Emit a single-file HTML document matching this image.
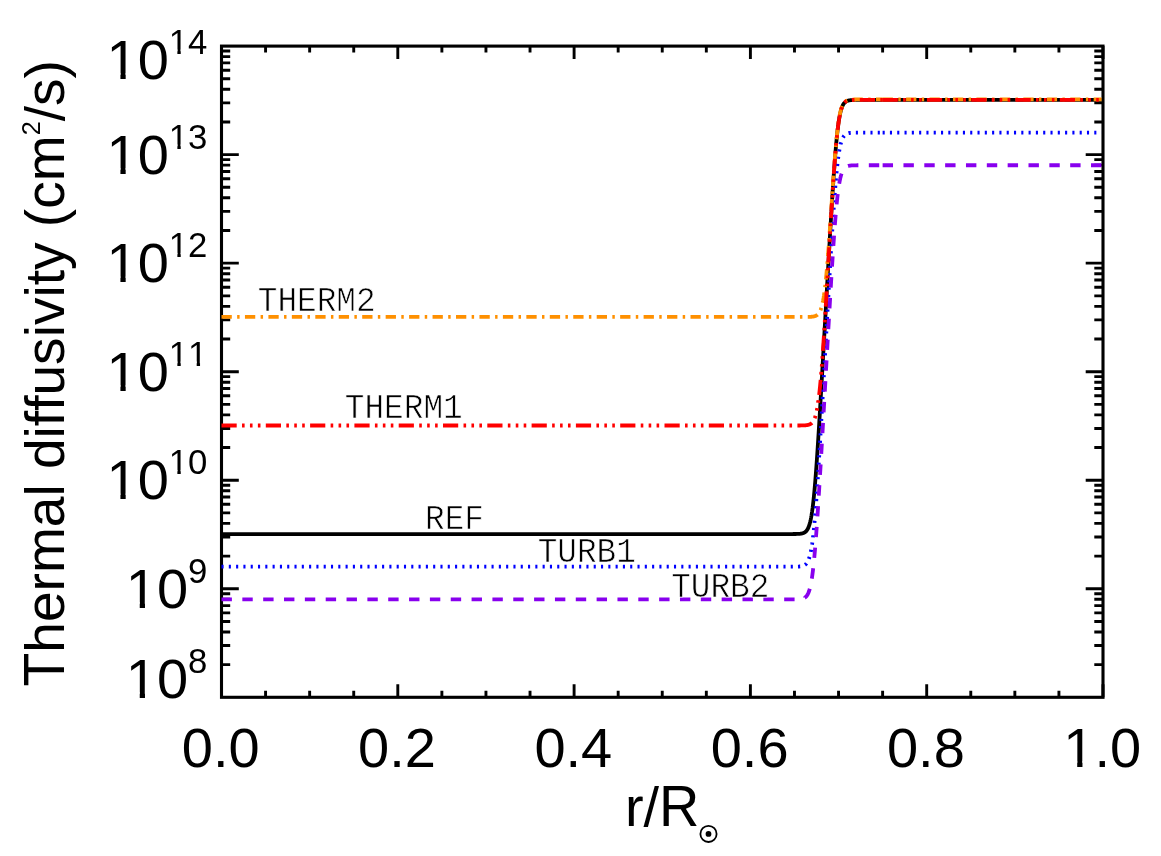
<!DOCTYPE html>
<html><head><meta charset="utf-8"><title>Thermal diffusivity</title>
<style>html,body{margin:0;padding:0;background:#fff}svg{display:block;will-change:transform}text{font-kerning:none;font-variant-ligatures:none}</style>
</head><body>
<svg width="1161" height="856" viewBox="0 0 1161 856">
<rect width="1161" height="856" fill="#ffffff"/>
<path d="M221.50 697.30 v-13.00 M221.50 46.10 v13.00 M265.57 697.30 v-6.50 M265.57 46.10 v6.50 M309.65 697.30 v-6.50 M309.65 46.10 v6.50 M353.73 697.30 v-6.50 M353.73 46.10 v6.50 M397.80 697.30 v-13.00 M397.80 46.10 v13.00 M441.88 697.30 v-6.50 M441.88 46.10 v6.50 M485.95 697.30 v-6.50 M485.95 46.10 v6.50 M530.03 697.30 v-6.50 M530.03 46.10 v6.50 M574.10 697.30 v-13.00 M574.10 46.10 v13.00 M618.17 697.30 v-6.50 M618.17 46.10 v6.50 M662.25 697.30 v-6.50 M662.25 46.10 v6.50 M706.33 697.30 v-6.50 M706.33 46.10 v6.50 M750.40 697.30 v-13.00 M750.40 46.10 v13.00 M794.48 697.30 v-6.50 M794.48 46.10 v6.50 M838.55 697.30 v-6.50 M838.55 46.10 v6.50 M882.62 697.30 v-6.50 M882.62 46.10 v6.50 M926.70 697.30 v-13.00 M926.70 46.10 v13.00 M970.78 697.30 v-6.50 M970.78 46.10 v6.50 M1014.85 697.30 v-6.50 M1014.85 46.10 v6.50 M1058.93 697.30 v-6.50 M1058.93 46.10 v6.50 M1103.00 697.30 v-13.00 M1103.00 46.10 v13.00 M221.50 664.63 h8.70 M1103.00 664.63 h-8.70 M221.50 645.52 h8.70 M1103.00 645.52 h-8.70 M221.50 631.96 h8.70 M1103.00 631.96 h-8.70 M221.50 621.44 h8.70 M1103.00 621.44 h-8.70 M221.50 612.84 h8.70 M1103.00 612.84 h-8.70 M221.50 605.58 h8.70 M1103.00 605.58 h-8.70 M221.50 599.28 h8.70 M1103.00 599.28 h-8.70 M221.50 593.73 h8.70 M1103.00 593.73 h-8.70 M221.50 588.77 h17.30 M1103.00 588.77 h-17.30 M221.50 556.09 h8.70 M1103.00 556.09 h-8.70 M221.50 536.98 h8.70 M1103.00 536.98 h-8.70 M221.50 523.42 h8.70 M1103.00 523.42 h-8.70 M221.50 512.91 h8.70 M1103.00 512.91 h-8.70 M221.50 504.31 h8.70 M1103.00 504.31 h-8.70 M221.50 497.05 h8.70 M1103.00 497.05 h-8.70 M221.50 490.75 h8.70 M1103.00 490.75 h-8.70 M221.50 485.20 h8.70 M1103.00 485.20 h-8.70 M221.50 480.23 h17.30 M1103.00 480.23 h-17.30 M221.50 447.56 h8.70 M1103.00 447.56 h-8.70 M221.50 428.45 h8.70 M1103.00 428.45 h-8.70 M221.50 414.89 h8.70 M1103.00 414.89 h-8.70 M221.50 404.37 h8.70 M1103.00 404.37 h-8.70 M221.50 395.78 h8.70 M1103.00 395.78 h-8.70 M221.50 388.51 h8.70 M1103.00 388.51 h-8.70 M221.50 382.22 h8.70 M1103.00 382.22 h-8.70 M221.50 376.67 h8.70 M1103.00 376.67 h-8.70 M221.50 371.70 h17.30 M1103.00 371.70 h-17.30 M221.50 339.03 h8.70 M1103.00 339.03 h-8.70 M221.50 319.92 h8.70 M1103.00 319.92 h-8.70 M221.50 306.36 h8.70 M1103.00 306.36 h-8.70 M221.50 295.84 h8.70 M1103.00 295.84 h-8.70 M221.50 287.24 h8.70 M1103.00 287.24 h-8.70 M221.50 279.98 h8.70 M1103.00 279.98 h-8.70 M221.50 273.68 h8.70 M1103.00 273.68 h-8.70 M221.50 268.13 h8.70 M1103.00 268.13 h-8.70 M221.50 263.17 h17.30 M1103.00 263.17 h-17.30 M221.50 230.49 h8.70 M1103.00 230.49 h-8.70 M221.50 211.38 h8.70 M1103.00 211.38 h-8.70 M221.50 197.82 h8.70 M1103.00 197.82 h-8.70 M221.50 187.31 h8.70 M1103.00 187.31 h-8.70 M221.50 178.71 h8.70 M1103.00 178.71 h-8.70 M221.50 171.45 h8.70 M1103.00 171.45 h-8.70 M221.50 165.15 h8.70 M1103.00 165.15 h-8.70 M221.50 159.60 h8.70 M1103.00 159.60 h-8.70 M221.50 154.63 h17.30 M1103.00 154.63 h-17.30 M221.50 121.96 h8.70 M1103.00 121.96 h-8.70 M221.50 102.85 h8.70 M1103.00 102.85 h-8.70 M221.50 89.29 h8.70 M1103.00 89.29 h-8.70 M221.50 78.77 h8.70 M1103.00 78.77 h-8.70 M221.50 70.18 h8.70 M1103.00 70.18 h-8.70 M221.50 62.91 h8.70 M1103.00 62.91 h-8.70 M221.50 56.62 h8.70 M1103.00 56.62 h-8.70 M221.50 51.07 h8.70 M1103.00 51.07 h-8.70" fill="none" stroke="#000" stroke-width="2.90"/>
<rect x="221.50" y="46.10" width="881.50" height="651.20" fill="none" stroke="#000" stroke-width="3.10"/>
<path d="M221.50 534.04 L789.60 534.04 L791.42 534.03 L792.48 534.03 L793.24 534.02 L793.83 534.02 L794.30 534.01 L794.71 534.00 L795.06 534.00 L795.42 533.99 L795.71 533.99 L795.94 533.98 L796.18 533.98 L796.41 533.97 L796.65 533.96 L796.83 533.96 L797.00 533.95 L797.18 533.95 L797.35 533.94 L797.53 533.93 L797.71 533.93 L797.82 533.92 L797.94 533.92 L798.06 533.91 L798.18 533.90 L798.29 533.90 L798.41 533.89 L798.53 533.88 L798.65 533.88 L798.76 533.87 L798.88 533.86 L799.00 533.85 L799.12 533.84 L799.24 533.84 L799.35 533.83 L799.41 533.82 L799.47 533.82 L799.53 533.81 L799.59 533.81 L799.65 533.80 L799.71 533.80 L799.76 533.79 L799.82 533.78 L799.88 533.78 L799.94 533.77 L800.00 533.77 L800.06 533.76 L800.12 533.75 L800.18 533.75 L800.23 533.74 L800.29 533.73 L800.35 533.73 L800.41 533.72 L800.47 533.71 L800.53 533.70 L800.59 533.70 L800.65 533.69 L800.70 533.68 L800.76 533.67 L800.82 533.66 L800.88 533.66 L800.94 533.65 L801.00 533.64 L801.06 533.63 L801.12 533.62 L801.17 533.61 L801.23 533.60 L801.29 533.59 L801.35 533.58 L801.41 533.57 L801.47 533.56 L801.53 533.55 L801.59 533.54 L801.64 533.53 L801.64 533.52 L801.70 533.51 L801.76 533.50 L801.82 533.49 L801.88 533.48 L801.94 533.46 L802.00 533.45 L802.06 533.44 L802.11 533.42 L802.17 533.41 L802.23 533.39 L802.29 533.38 L802.35 533.36 L802.41 533.35 L802.47 533.33 L802.53 533.32 L802.58 533.30 L802.64 533.28 L802.70 533.27 L802.76 533.25 L802.82 533.23 L802.88 533.21 L802.94 533.19 L803.00 533.17 L803.05 533.16 L803.11 533.14 L803.17 533.11 L803.23 533.09 L803.29 533.07 L803.35 533.05 L803.41 533.03 L803.47 533.01 L803.53 532.98 L803.58 532.96 L803.64 532.93 L803.70 532.91 L803.76 532.88 L803.82 532.86 L803.88 532.83 L803.94 532.80 L804.00 532.77 L804.05 532.75 L804.11 532.72 L804.17 532.69 L804.23 532.66 L804.29 532.63 L804.35 532.59 L804.41 532.56 L804.47 532.53 L804.52 532.49 L804.58 532.46 L804.64 532.42 L804.70 532.39 L804.76 532.35 L804.82 532.31 L804.88 532.27 L804.94 532.23 L804.94 532.23 L804.99 532.19 L805.05 532.15 L805.11 532.11 L805.17 532.07 L805.23 532.02 L805.29 531.98 L805.35 531.93 L805.41 531.88 L805.46 531.83 L805.52 531.79 L805.58 531.74 L805.64 531.68 L805.70 531.63 L805.76 531.58 L805.82 531.52 L805.88 531.47 L805.93 531.41 L805.99 531.35 L806.05 531.29 L806.11 531.23 L806.17 531.17 L806.23 531.10 L806.29 531.04 L806.35 530.97 L806.40 530.91 L806.46 530.84 L806.52 530.77 L806.58 530.69 L806.60 530.67 L806.64 530.62 L806.70 530.54 L806.76 530.47 L806.82 530.39 L806.87 530.31 L806.93 530.23 L806.99 530.14 L807.05 530.06 L807.11 529.97 L807.17 529.88 L807.23 529.79 L807.29 529.70 L807.34 529.60 L807.40 529.51 L807.46 529.41 L807.52 529.31 L807.58 529.20 L807.64 529.10 L807.70 528.99 L807.76 528.88 L807.82 528.77 L807.87 528.66 L807.93 528.54 L807.99 528.42 L808.05 528.30 L808.11 528.18 L808.17 528.05 L808.23 527.92 L808.25 527.87 L808.29 527.79 L808.34 527.66 L808.40 527.52 L808.46 527.38 L808.52 527.24 L808.58 527.10 L808.64 526.95 L808.70 526.80 L808.76 526.65 L808.81 526.49 L808.87 526.33 L808.93 526.17 L808.99 526.00 L809.05 525.83 L809.11 525.66 L809.17 525.49 L809.23 525.31 L809.28 525.13 L809.34 524.94 L809.40 524.75 L809.46 524.56 L809.52 524.36 L809.58 524.17 L809.64 523.96 L809.70 523.76 L809.75 523.54 L809.81 523.33 L809.87 523.11 L809.90 523.00 L809.93 522.89 L809.99 522.66 L810.05 522.43 L810.11 522.20 L810.17 521.96 L810.22 521.72 L810.28 521.47 L810.34 521.22 L810.40 520.96 L810.46 520.70 L810.52 520.44 L810.58 520.17 L810.64 519.89 L810.69 519.61 L810.75 519.33 L810.81 519.04 L810.87 518.75 L810.93 518.45 L810.99 518.15 L811.05 517.84 L811.11 517.53 L811.16 517.21 L811.22 516.89 L811.28 516.56 L811.34 516.23 L811.40 515.89 L811.46 515.55 L811.52 515.20 L811.55 514.98 L811.58 514.85 L811.63 514.49 L811.69 514.13 L811.75 513.76 L811.81 513.38 L811.87 513.00 L811.93 512.61 L811.99 512.22 L812.05 511.82 L812.11 511.42 L812.16 511.01 L812.22 510.60 L812.28 510.18 L812.34 509.75 L812.40 509.32 L812.46 508.88 L812.52 508.44 L812.58 507.99 L812.63 507.53 L812.69 507.07 L812.75 506.61 L812.81 506.13 L812.87 505.65 L812.93 505.17 L812.99 504.68 L813.05 504.18 L813.10 503.68 L813.16 503.17 L813.21 502.78 L813.22 502.65 L813.28 502.13 L813.34 501.61 L813.40 501.07 L813.46 500.53 L813.52 499.99 L813.57 499.44 L813.63 498.88 L813.69 498.32 L813.75 497.75 L813.81 497.18 L813.87 496.59 L813.93 496.01 L813.99 495.42 L814.04 494.82 L814.10 494.21 L814.16 493.60 L814.22 492.98 L814.28 492.36 L814.34 491.73 L814.40 491.10 L814.46 490.46 L814.51 489.82 L814.57 489.16 L814.63 488.51 L814.69 487.85 L814.75 487.18 L814.81 486.50 L814.86 485.91 L814.87 485.82 L814.93 485.14 L814.98 484.45 L815.04 483.75 L815.10 483.05 L815.16 482.34 L815.22 481.63 L815.28 480.92 L815.34 480.19 L815.40 479.47 L815.45 478.73 L815.51 477.99 L815.57 477.25 L815.63 476.50 L815.69 475.75 L815.75 474.99 L815.81 474.23 L815.87 473.46 L815.92 472.69 L815.98 471.91 L816.04 471.13 L816.10 470.34 L816.16 469.55 L816.22 468.75 L816.28 467.95 L816.34 467.15 L816.39 466.34 L816.45 465.52 L816.51 464.71 L816.57 463.88 L816.63 463.06 L816.69 462.23 L816.75 461.39 L816.81 460.55 L816.87 459.71 L816.92 458.86 L816.98 458.01 L817.04 457.16 L817.10 456.30 L817.16 455.44 L817.22 454.57 L817.28 453.70 L817.34 452.83 L817.39 451.95 L817.45 451.07 L817.51 450.19 L817.57 449.30 L817.63 448.41 L817.69 447.52 L817.75 446.62 L817.81 445.72 L817.86 444.82 L817.92 443.92 L817.98 443.01 L818.04 442.10 L818.10 441.18 L818.16 440.26 L818.17 440.15 L818.22 439.34 L818.28 438.42 L818.33 437.49 L818.39 436.57 L818.45 435.63 L818.51 434.70 L818.57 433.76 L818.63 432.83 L818.69 431.88 L818.75 430.94 L818.80 429.99 L818.86 429.05 L818.92 428.09 L818.98 427.14 L819.04 426.19 L819.10 425.23 L819.16 424.27 L819.22 423.31 L819.27 422.34 L819.33 421.38 L819.39 420.41 L819.45 419.44 L819.51 418.47 L819.57 417.50 L819.63 416.52 L819.69 415.54 L819.74 414.57 L819.80 413.59 L819.82 413.34 L819.86 412.60 L819.92 411.62 L819.98 410.63 L820.04 409.65 L820.10 408.66 L820.16 407.67 L820.21 406.68 L820.27 405.68 L820.33 404.69 L820.39 403.69 L820.45 402.70 L820.51 401.70 L820.57 400.70 L820.63 399.70 L820.68 398.69 L820.74 397.69 L820.80 396.68 L820.86 395.68 L820.92 394.67 L820.98 393.66 L821.04 392.65 L821.10 391.64 L821.16 390.63 L821.21 389.62 L821.27 388.60 L821.33 387.59 L821.39 386.57 L821.45 385.56 L821.47 385.17 L821.51 384.54 L821.57 383.52 L821.63 382.50 L821.68 381.48 L821.74 380.46 L821.80 379.44 L821.86 378.41 L821.92 377.39 L821.98 376.36 L822.04 375.34 L822.10 374.31 L822.15 373.29 L822.21 372.26 L822.27 371.23 L822.33 370.20 L822.39 369.17 L822.45 368.14 L822.51 367.11 L822.57 366.08 L822.62 365.05 L822.68 364.02 L822.74 362.98 L822.80 361.95 L822.86 360.92 L822.92 359.88 L822.98 358.85 L823.04 357.81 L823.09 356.78 L823.12 356.26 L823.15 355.74 L823.21 354.70 L823.27 353.67 L823.33 352.63 L823.39 351.59 L823.45 350.55 L823.51 349.51 L823.56 348.48 L823.62 347.44 L823.68 346.40 L823.74 345.36 L823.80 344.32 L823.86 343.28 L823.92 342.23 L823.98 341.19 L824.03 340.15 L824.09 339.11 L824.15 338.07 L824.21 337.03 L824.27 335.98 L824.33 334.94 L824.39 333.90 L824.45 332.86 L824.50 331.81 L824.56 330.77 L824.62 329.73 L824.68 328.68 L824.74 327.64 L824.78 326.99 L824.80 326.60 L824.86 325.55 L824.92 324.51 L824.97 323.46 L825.03 322.42 L825.09 321.38 L825.15 320.33 L825.21 319.29 L825.27 318.24 L825.33 317.20 L825.39 316.16 L825.45 315.11 L825.50 314.07 L825.56 313.02 L825.62 311.98 L825.68 310.94 L825.74 309.89 L825.80 308.85 L825.86 307.80 L825.92 306.76 L825.97 305.72 L826.03 304.67 L826.09 303.63 L826.15 302.59 L826.21 301.54 L826.27 300.50 L826.33 299.46 L826.39 298.42 L826.43 297.63 L826.44 297.37 L826.50 296.33 L826.56 295.29 L826.62 294.25 L826.68 293.21 L826.74 292.17 L826.80 291.12 L826.86 290.08 L826.91 289.04 L826.97 288.00 L827.03 286.96 L827.09 285.92 L827.15 284.89 L827.21 283.85 L827.27 282.81 L827.33 281.77 L827.38 280.73 L827.44 279.69 L827.50 278.66 L827.56 277.62 L827.62 276.59 L827.68 275.55 L827.74 274.51 L827.80 273.48 L827.85 272.45 L827.91 271.41 L827.97 270.38 L828.03 269.35 L828.08 268.44 L828.09 268.31 L828.15 267.28 L828.21 266.25 L828.27 265.22 L828.32 264.19 L828.38 263.16 L828.44 262.14 L828.50 261.11 L828.56 260.08 L828.62 259.05 L828.68 258.03 L828.74 257.00 L828.79 255.98 L828.85 254.96 L828.91 253.93 L828.97 252.91 L829.03 251.89 L829.09 250.87 L829.15 249.85 L829.21 248.83 L829.26 247.82 L829.32 246.80 L829.38 245.79 L829.44 244.77 L829.50 243.76 L829.56 242.75 L829.62 241.73 L829.68 240.72 L829.73 239.72 L829.79 238.71 L829.85 237.70 L829.91 236.70 L829.97 235.69 L830.03 234.69 L830.09 233.69 L830.15 232.69 L830.21 231.69 L830.26 230.69 L830.32 229.69 L830.38 228.70 L830.44 227.70 L830.50 226.71 L830.56 225.72 L830.62 224.73 L830.68 223.74 L830.73 222.76 L830.79 221.77 L830.85 220.79 L830.91 219.81 L830.97 218.83 L831.03 217.85 L831.09 216.87 L831.15 215.90 L831.20 214.93 L831.26 213.96 L831.32 212.99 L831.38 212.02 L831.39 211.90 L831.44 211.06 L831.50 210.10 L831.56 209.13 L831.62 208.18 L831.67 207.22 L831.73 206.27 L831.79 205.31 L831.85 204.37 L831.91 203.42 L831.97 202.47 L832.03 201.53 L832.09 200.59 L832.14 199.65 L832.20 198.72 L832.26 197.79 L832.32 196.86 L832.38 195.93 L832.44 195.01 L832.50 194.08 L832.56 193.16 L832.61 192.25 L832.67 191.34 L832.73 190.43 L832.79 189.52 L832.85 188.61 L832.91 187.71 L832.97 186.82 L833.03 185.92 L833.04 185.70 L833.08 185.03 L833.14 184.14 L833.20 183.26 L833.26 182.38 L833.32 181.50 L833.38 180.62 L833.44 179.75 L833.50 178.89 L833.55 178.02 L833.61 177.16 L833.67 176.31 L833.73 175.45 L833.79 174.60 L833.85 173.76 L833.91 172.92 L833.97 172.08 L834.02 171.25 L834.08 170.42 L834.14 169.60 L834.20 168.78 L834.26 167.96 L834.32 167.15 L834.38 166.34 L834.44 165.54 L834.50 164.74 L834.55 163.95 L834.61 163.16 L834.67 162.38 L834.69 162.08 L834.73 161.60 L834.79 160.82 L834.85 160.05 L834.91 159.29 L834.97 158.53 L835.02 157.77 L835.08 157.02 L835.14 156.27 L835.20 155.53 L835.26 154.80 L835.32 154.07 L835.38 153.34 L835.44 152.62 L835.49 151.91 L835.55 151.20 L835.61 150.50 L835.67 149.80 L835.73 149.11 L835.79 148.42 L835.85 147.74 L835.91 147.06 L835.96 146.39 L836.02 145.73 L836.08 145.07 L836.14 144.41 L836.20 143.77 L836.26 143.12 L836.32 142.49 L836.35 142.17 L836.38 141.86 L836.43 141.23 L836.49 140.61 L836.55 140.00 L836.61 139.39 L836.67 138.79 L836.73 138.20 L836.79 137.61 L836.85 137.02 L836.90 136.44 L836.96 135.87 L837.02 135.31 L837.08 134.75 L837.14 134.19 L837.20 133.65 L837.26 133.11 L837.32 132.57 L837.37 132.04 L837.43 131.52 L837.49 131.00 L837.55 130.49 L837.61 129.98 L837.67 129.48 L837.73 128.99 L837.79 128.50 L837.84 128.02 L837.90 127.55 L837.96 127.08 L838.00 126.79 L838.02 126.61 L838.08 126.15 L838.14 125.70 L838.20 125.26 L838.26 124.82 L838.31 124.38 L838.37 123.95 L838.43 123.53 L838.49 123.11 L838.55 122.70 L838.61 122.30 L838.67 121.90 L838.73 121.50 L838.79 121.11 L838.84 120.73 L838.90 120.35 L838.96 119.98 L839.02 119.61 L839.08 119.25 L839.14 118.90 L839.20 118.55 L839.26 118.20 L839.31 117.86 L839.37 117.53 L839.43 117.20 L839.49 116.87 L839.55 116.55 L839.61 116.24 L839.65 116.00 L839.67 115.93 L839.73 115.62 L839.78 115.32 L839.84 115.03 L839.90 114.74 L839.96 114.45 L840.02 114.17 L840.08 113.90 L840.14 113.63 L840.20 113.36 L840.25 113.10 L840.31 112.84 L840.37 112.59 L840.43 112.34 L840.49 112.09 L840.55 111.85 L840.61 111.61 L840.67 111.38 L840.72 111.15 L840.78 110.93 L840.84 110.71 L840.90 110.49 L840.96 110.28 L841.02 110.07 L841.08 109.87 L841.14 109.67 L841.19 109.47 L841.25 109.27 L841.30 109.11 L841.31 109.08 L841.37 108.90 L841.43 108.71 L841.49 108.53 L841.55 108.36 L841.61 108.18 L841.66 108.01 L841.72 107.85 L841.78 107.68 L841.84 107.52 L841.90 107.37 L841.96 107.21 L842.02 107.06 L842.08 106.91 L842.13 106.77 L842.19 106.62 L842.25 106.48 L842.31 106.35 L842.37 106.21 L842.43 106.08 L842.49 105.95 L842.55 105.82 L842.60 105.70 L842.66 105.58 L842.72 105.46 L842.78 105.34 L842.84 105.22 L842.90 105.11 L842.96 105.00 L843.02 104.89 L843.08 104.79 L843.13 104.68 L843.19 104.58 L843.25 104.48 L843.31 104.38 L843.37 104.29 L843.43 104.20 L843.49 104.10 L843.55 104.01 L843.60 103.93 L843.66 103.84 L843.72 103.75 L843.78 103.67 L843.84 103.59 L843.90 103.51 L843.96 103.43 L844.02 103.36 L844.07 103.28 L844.13 103.21 L844.19 103.14 L844.25 103.07 L844.31 103.00 L844.37 102.93 L844.43 102.87 L844.49 102.80 L844.54 102.74 L844.60 102.68 L844.61 102.67 L844.66 102.62 L844.72 102.56 L844.78 102.50 L844.84 102.45 L844.90 102.39 L844.96 102.34 L845.01 102.28 L845.07 102.23 L845.13 102.18 L845.19 102.13 L845.25 102.08 L845.31 102.03 L845.37 101.99 L845.43 101.94 L845.48 101.90 L845.54 101.85 L845.60 101.81 L845.66 101.77 L845.72 101.73 L845.78 101.69 L845.84 101.65 L845.90 101.61 L845.95 101.57 L846.01 101.54 L846.07 101.50 L846.13 101.47 L846.19 101.43 L846.25 101.40 L846.26 101.39 L846.31 101.36 L846.37 101.33 L846.42 101.30 L846.48 101.27 L846.54 101.24 L846.60 101.21 L846.66 101.18 L846.72 101.15 L846.78 101.13 L846.84 101.10 L846.89 101.07 L846.95 101.05 L847.01 101.02 L847.07 101.00 L847.13 100.97 L847.19 100.95 L847.25 100.93 L847.31 100.90 L847.37 100.88 L847.42 100.86 L847.48 100.84 L847.54 100.82 L847.60 100.80 L847.66 100.78 L847.72 100.76 L847.78 100.74 L847.84 100.72 L847.89 100.70 L847.92 100.70 L847.95 100.69 L848.01 100.67 L848.07 100.65 L848.13 100.63 L848.19 100.62 L848.25 100.60 L848.31 100.59 L848.36 100.57 L848.42 100.56 L848.48 100.54 L848.54 100.53 L848.60 100.51 L848.66 100.50 L848.72 100.49 L848.78 100.47 L848.83 100.46 L848.89 100.45 L848.95 100.44 L849.01 100.43 L849.07 100.41 L849.13 100.40 L849.19 100.39 L849.25 100.38 L849.30 100.37 L849.36 100.36 L849.42 100.35 L849.48 100.34 L849.54 100.33 L849.60 100.32 L849.66 100.31 L849.72 100.30 L849.77 100.29 L849.83 100.28 L849.89 100.28 L849.95 100.27 L850.01 100.26 L850.07 100.25 L850.13 100.24 L850.19 100.24 L850.24 100.23 L850.30 100.22 L850.36 100.21 L850.42 100.21 L850.48 100.20 L850.54 100.19 L850.60 100.19 L850.66 100.18 L850.71 100.17 L850.77 100.17 L850.83 100.16 L850.89 100.16 L850.95 100.15 L851.01 100.15 L851.07 100.14 L851.13 100.14 L851.18 100.13 L851.24 100.12 L851.36 100.12 L851.48 100.11 L851.60 100.10 L851.71 100.09 L851.83 100.08 L851.95 100.07 L852.07 100.06 L852.18 100.06 L852.30 100.05 L852.42 100.04 L852.54 100.04 L852.65 100.03 L852.77 100.03 L852.89 100.02 L853.01 100.02 L853.18 100.01 L853.36 100.00 L853.54 100.00 L853.71 99.99 L853.89 99.98 L854.06 99.98 L854.30 99.97 L854.53 99.97 L854.77 99.96 L855.06 99.95 L855.36 99.95 L855.71 99.94 L856.06 99.94 L856.47 99.93 L857.00 99.93 L857.65 99.92 L858.47 99.92 L859.65 99.91 L861.88 99.91 L882.62 99.90" fill="none" stroke="#000000" stroke-width="3.80" stroke-linejoin="round" stroke-linecap="butt"/>
<path d="M882.62 99.90 L1101.59 99.90" fill="none" stroke="#000000" stroke-width="3.80" stroke-linejoin="round" stroke-linecap="butt"/>
<path d="M221.50 566.71 L789.60 566.71 L791.42 566.70 L792.48 566.70 L793.24 566.69 L793.83 566.69 L794.30 566.68 L794.71 566.68 L795.06 566.67 L795.42 566.67 L795.71 566.66 L795.94 566.65 L796.18 566.65 L796.41 566.64 L796.65 566.64 L796.83 566.63 L797.00 566.63 L797.18 566.62 L797.35 566.61 L797.53 566.61 L797.71 566.60 L797.82 566.59 L797.94 566.59 L798.06 566.58 L798.18 566.58 L798.29 566.57 L798.41 566.56 L798.53 566.56 L798.65 566.55 L798.76 566.54 L798.88 566.53 L799.00 566.53 L799.12 566.52 L799.24 566.51 L799.35 566.50 L799.41 566.49 L799.47 566.49 L799.53 566.48 L799.59 566.48 L799.65 566.47 L799.71 566.47 L799.76 566.46 L799.82 566.46 L799.88 566.45 L799.94 566.44 L800.00 566.44 L800.06 566.43 L800.12 566.42 L800.18 566.42 L800.23 566.41 L800.29 566.40 L800.35 566.40 L800.41 566.39 L800.47 566.38 L800.53 566.38 L800.59 566.37 L800.65 566.36 L800.70 566.35 L800.76 566.34 L800.82 566.34 L800.88 566.33 L800.94 566.32 L801.00 566.31 L801.06 566.30 L801.12 566.29 L801.17 566.28 L801.23 566.27 L801.29 566.26 L801.35 566.25 L801.41 566.24 L801.47 566.23 L801.53 566.22 L801.59 566.21 L801.64 566.20 L801.64 566.20 L801.70 566.18 L801.76 566.17 L801.82 566.16 L801.88 566.15 L801.94 566.13 L802.00 566.12 L802.06 566.11 L802.11 566.09 L802.17 566.08 L802.23 566.07 L802.29 566.05 L802.35 566.04 L802.41 566.02 L802.47 566.00 L802.53 565.99 L802.58 565.97 L802.64 565.96 L802.70 565.94 L802.76 565.92 L802.82 565.90 L802.88 565.88 L802.94 565.87 L803.00 565.85 L803.05 565.83 L803.11 565.81 L803.17 565.79 L803.23 565.77 L803.29 565.74 L803.35 565.72 L803.41 565.70 L803.47 565.68 L803.53 565.65 L803.58 565.63 L803.64 565.60 L803.70 565.58 L803.76 565.55 L803.82 565.53 L803.88 565.50 L803.94 565.47 L804.00 565.45 L804.05 565.42 L804.11 565.39 L804.17 565.36 L804.23 565.33 L804.29 565.30 L804.35 565.27 L804.41 565.23 L804.47 565.20 L804.52 565.17 L804.58 565.13 L804.64 565.09 L804.70 565.06 L804.76 565.02 L804.82 564.98 L804.88 564.94 L804.94 564.90 L804.94 564.90 L804.99 564.86 L805.05 564.82 L805.11 564.78 L805.17 564.74 L805.23 564.69 L805.29 564.65 L805.35 564.60 L805.41 564.55 L805.46 564.51 L805.52 564.46 L805.58 564.41 L805.64 564.36 L805.70 564.30 L805.76 564.25 L805.82 564.19 L805.88 564.14 L805.93 564.08 L805.99 564.02 L806.05 563.96 L806.11 563.90 L806.17 563.84 L806.23 563.78 L806.29 563.71 L806.35 563.64 L806.40 563.58 L806.46 563.51 L806.52 563.44 L806.58 563.36 L806.60 563.35 L806.64 563.29 L806.70 563.22 L806.76 563.14 L806.82 563.06 L806.87 562.98 L806.93 562.90 L806.99 562.81 L807.05 562.73 L807.11 562.64 L807.17 562.55 L807.23 562.46 L807.29 562.37 L807.34 562.27 L807.40 562.18 L807.46 562.08 L807.52 561.98 L807.58 561.87 L807.64 561.77 L807.70 561.66 L807.76 561.55 L807.82 561.44 L807.87 561.33 L807.93 561.21 L807.99 561.09 L808.05 560.97 L808.11 560.85 L808.17 560.72 L808.23 560.59 L808.25 560.55 L808.29 560.46 L808.34 560.33 L808.40 560.19 L808.46 560.05 L808.52 559.91 L808.58 559.77 L808.64 559.62 L808.70 559.47 L808.76 559.32 L808.81 559.16 L808.87 559.00 L808.93 558.84 L808.99 558.67 L809.05 558.51 L809.11 558.33 L809.17 558.16 L809.23 557.98 L809.28 557.80 L809.34 557.61 L809.40 557.42 L809.46 557.23 L809.52 557.04 L809.58 556.84 L809.64 556.63 L809.70 556.43 L809.75 556.22 L809.81 556.00 L809.87 555.78 L809.90 555.67 L809.93 555.56 L809.99 555.33 L810.05 555.10 L810.11 554.87 L810.17 554.63 L810.22 554.39 L810.28 554.14 L810.34 553.89 L810.40 553.63 L810.46 553.37 L810.52 553.11 L810.58 552.84 L810.64 552.56 L810.69 552.29 L810.75 552.00 L810.81 551.71 L810.87 551.42 L810.93 551.12 L810.99 550.82 L811.05 550.51 L811.11 550.20 L811.16 549.89 L811.22 549.56 L811.28 549.24 L811.34 548.90 L811.40 548.57 L811.46 548.22 L811.52 547.87 L811.55 547.65 L811.58 547.52 L811.63 547.16 L811.69 546.80 L811.75 546.43 L811.81 546.05 L811.87 545.67 L811.93 545.28 L811.99 544.89 L812.05 544.50 L812.11 544.09 L812.16 543.68 L812.22 543.27 L812.28 542.85 L812.34 542.42 L812.40 541.99 L812.46 541.55 L812.52 541.11 L812.58 540.66 L812.63 540.21 L812.69 539.74 L812.75 539.28 L812.81 538.80 L812.87 538.33 L812.93 537.84 L812.99 537.35 L813.05 536.85 L813.10 536.35 L813.16 535.84 L813.21 535.46 L813.22 535.33 L813.28 534.81 L813.34 534.28 L813.40 533.75 L813.46 533.21 L813.52 532.66 L813.57 532.11 L813.63 531.55 L813.69 530.99 L813.75 530.42 L813.81 529.85 L813.87 529.27 L813.93 528.68 L813.99 528.09 L814.04 527.49 L814.10 526.88 L814.16 526.27 L814.22 525.66 L814.28 525.03 L814.34 524.41 L814.40 523.77 L814.46 523.13 L814.51 522.49 L814.57 521.84 L814.63 521.18 L814.69 520.52 L814.75 519.85 L814.81 519.17 L814.86 518.58 L814.87 518.50 L814.93 517.81 L814.98 517.12 L815.04 516.42 L815.10 515.72 L815.16 515.02 L815.22 514.30 L815.28 513.59 L815.34 512.86 L815.40 512.14 L815.45 511.40 L815.51 510.67 L815.57 509.92 L815.63 509.17 L815.69 508.42 L815.75 507.66 L815.81 506.90 L815.87 506.13 L815.92 505.36 L815.98 504.58 L816.04 503.80 L816.10 503.01 L816.16 502.22 L816.22 501.42 L816.28 500.62 L816.34 499.82 L816.39 499.01 L816.45 498.20 L816.51 497.38 L816.57 496.56 L816.63 495.73 L816.69 494.90 L816.75 494.06 L816.81 493.22 L816.87 492.38 L816.92 491.53 L816.98 490.68 L817.04 489.83 L817.10 488.97 L817.16 488.11 L817.22 487.24 L817.28 486.37 L817.34 485.50 L817.39 484.63 L817.45 483.75 L817.51 482.86 L817.57 481.98 L817.63 481.09 L817.69 480.19 L817.75 479.30 L817.81 478.40 L817.86 477.49 L817.92 476.59 L817.98 475.68 L818.04 474.77 L818.10 473.85 L818.16 472.94 L818.17 472.82 L818.22 472.01 L818.28 471.09 L818.33 470.17 L818.39 469.24 L818.45 468.31 L818.51 467.37 L818.57 466.44 L818.63 465.50 L818.69 464.56 L818.75 463.61 L818.80 462.67 L818.86 461.72 L818.92 460.77 L818.98 459.81 L819.04 458.86 L819.10 457.90 L819.16 456.94 L819.22 455.98 L819.27 455.02 L819.33 454.05 L819.39 453.08 L819.45 452.11 L819.51 451.14 L819.57 450.17 L819.63 449.19 L819.69 448.22 L819.74 447.24 L819.80 446.26 L819.82 446.01 L819.86 445.28 L819.92 444.29 L819.98 443.31 L820.04 442.32 L820.10 441.33 L820.16 440.34 L820.21 439.35 L820.27 438.36 L820.33 437.36 L820.39 436.36 L820.45 435.37 L820.51 434.37 L820.57 433.37 L820.63 432.37 L820.68 431.36 L820.74 430.36 L820.80 429.36 L820.86 428.35 L820.92 427.34 L820.98 426.33 L821.04 425.32 L821.10 424.31 L821.16 423.30 L821.21 422.29 L821.27 421.27 L821.33 420.26 L821.39 419.24 L821.45 418.23 L821.47 417.85 L821.51 417.21 L821.57 416.19 L821.63 415.17 L821.68 414.15 L821.74 413.13 L821.80 412.11 L821.86 411.08 L821.92 410.06 L821.98 409.04 L822.04 408.01 L822.10 406.98 L822.15 405.96 L822.21 404.93 L822.27 403.90 L822.33 402.87 L822.39 401.84 L822.45 400.81 L822.51 399.78 L822.57 398.75 L822.62 397.72 L822.68 396.69 L822.74 395.66 L822.80 394.62 L822.86 393.59 L822.92 392.55 L822.98 391.52 L823.04 390.48 L823.09 389.45 L823.12 388.93 L823.15 388.41 L823.21 387.38 L823.27 386.34 L823.33 385.30 L823.39 384.26 L823.45 383.22 L823.51 382.19 L823.56 381.15 L823.62 380.11 L823.68 379.07 L823.74 378.03 L823.80 376.99 L823.86 375.95 L823.92 374.91 L823.98 373.87 L824.03 372.82 L824.09 371.78 L824.15 370.74 L824.21 369.70 L824.27 368.66 L824.33 367.61 L824.39 366.57 L824.45 365.53 L824.50 364.49 L824.56 363.44 L824.62 362.40 L824.68 361.36 L824.74 360.31 L824.78 359.66 L824.80 359.27 L824.86 358.22 L824.92 357.18 L824.97 356.14 L825.03 355.09 L825.09 354.05 L825.15 353.00 L825.21 351.96 L825.27 350.92 L825.33 349.87 L825.39 348.83 L825.45 347.78 L825.50 346.74 L825.56 345.70 L825.62 344.65 L825.68 343.61 L825.74 342.56 L825.80 341.52 L825.86 340.48 L825.92 339.43 L825.97 338.39 L826.03 337.35 L826.09 336.30 L826.15 335.26 L826.21 334.22 L826.27 333.17 L826.33 332.13 L826.39 331.09 L826.43 330.31 L826.44 330.05 L826.50 329.00 L826.56 327.96 L826.62 326.92 L826.68 325.88 L826.74 324.84 L826.80 323.80 L826.86 322.76 L826.91 321.72 L826.97 320.68 L827.03 319.64 L827.09 318.60 L827.15 317.56 L827.21 316.52 L827.27 315.48 L827.33 314.44 L827.38 313.40 L827.44 312.37 L827.50 311.33 L827.56 310.29 L827.62 309.26 L827.68 308.22 L827.74 307.19 L827.80 306.15 L827.85 305.12 L827.91 304.08 L827.97 303.05 L828.03 302.02 L828.08 301.12 L828.09 300.99 L828.15 299.95 L828.21 298.92 L828.27 297.89 L828.32 296.86 L828.38 295.84 L828.44 294.81 L828.50 293.78 L828.56 292.75 L828.62 291.73 L828.68 290.70 L828.74 289.68 L828.79 288.65 L828.85 287.63 L828.91 286.61 L828.97 285.58 L829.03 284.56 L829.09 283.54 L829.15 282.52 L829.21 281.51 L829.26 280.49 L829.32 279.47 L829.38 278.46 L829.44 277.44 L829.50 276.43 L829.56 275.42 L829.62 274.41 L829.68 273.40 L829.73 272.39 L829.79 271.38 L829.85 270.37 L829.91 269.37 L829.97 268.36 L830.03 267.36 L830.09 266.36 L830.15 265.36 L830.21 264.36 L830.26 263.36 L830.32 262.36 L830.38 261.37 L830.44 260.37 L830.50 259.38 L830.56 258.39 L830.62 257.40 L830.68 256.41 L830.73 255.43 L830.79 254.44 L830.85 253.46 L830.91 252.48 L830.97 251.50 L831.03 250.52 L831.09 249.55 L831.15 248.57 L831.20 247.60 L831.26 246.63 L831.32 245.66 L831.38 244.69 L831.39 244.57 L831.44 243.73 L831.50 242.77 L831.56 241.81 L831.62 240.85 L831.67 239.89 L831.73 238.94 L831.79 237.99 L831.85 237.04 L831.91 236.09 L831.97 235.14 L832.03 234.20 L832.09 233.26 L832.14 232.33 L832.20 231.39 L832.26 230.46 L832.32 229.53 L832.38 228.60 L832.44 227.68 L832.50 226.76 L832.56 225.84 L832.61 224.92 L832.67 224.01 L832.73 223.10 L832.79 222.19 L832.85 221.29 L832.91 220.39 L832.97 219.49 L833.03 218.59 L833.04 218.37 L833.08 217.70 L833.14 216.81 L833.20 215.93 L833.26 215.05 L833.32 214.17 L833.38 213.30 L833.44 212.42 L833.50 211.56 L833.55 210.69 L833.61 209.83 L833.67 208.98 L833.73 208.13 L833.79 207.28 L833.85 206.43 L833.91 205.59 L833.97 204.75 L834.02 203.92 L834.08 203.09 L834.14 202.27 L834.20 201.45 L834.26 200.63 L834.32 199.82 L834.38 199.02 L834.44 198.21 L834.50 197.42 L834.55 196.62 L834.61 195.83 L834.67 195.05 L834.69 194.76 L834.73 194.27 L834.79 193.49 L834.85 192.72 L834.91 191.96 L834.97 191.20 L835.02 190.44 L835.08 189.69 L835.14 188.95 L835.20 188.21 L835.26 187.47 L835.32 186.74 L835.38 186.02 L835.44 185.30 L835.49 184.58 L835.55 183.87 L835.61 183.17 L835.67 182.47 L835.73 181.78 L835.79 181.09 L835.85 180.41 L835.91 179.73 L835.96 179.06 L836.02 178.40 L836.08 177.74 L836.14 177.08 L836.20 176.44 L836.26 175.79 L836.32 175.16 L836.35 174.84 L836.38 174.53 L836.43 173.90 L836.49 173.28 L836.55 172.67 L836.61 172.06 L836.67 171.46 L836.73 170.87 L836.79 170.28 L836.85 169.69 L836.90 169.12 L836.96 168.55 L837.02 167.98 L837.08 167.42 L837.14 166.87 L837.20 166.32 L837.26 165.78 L837.32 165.24 L837.37 164.71 L837.43 164.19 L837.49 163.67 L837.55 163.16 L837.61 162.65 L837.67 162.16 L837.73 161.66 L837.79 161.17 L837.84 160.69 L837.90 160.22 L837.96 159.75 L838.00 159.46 L838.02 159.28 L838.08 158.83 L838.14 158.37 L838.20 157.93 L838.26 157.49 L838.31 157.05 L838.37 156.62 L838.43 156.20 L838.49 155.79 L838.55 155.37 L838.61 154.97 L838.67 154.57 L838.73 154.17 L838.79 153.78 L838.84 153.40 L838.90 153.02 L838.96 152.65 L839.02 152.29 L839.08 151.92 L839.14 151.57 L839.20 151.22 L839.26 150.87 L839.31 150.53 L839.37 150.20 L839.43 149.87 L839.49 149.54 L839.55 149.22 L839.61 148.91 L839.65 148.68 L839.67 148.60 L839.73 148.29 L839.78 148.00 L839.84 147.70 L839.90 147.41 L839.96 147.13 L840.02 146.84 L840.08 146.57 L840.14 146.30 L840.20 146.03 L840.25 145.77 L840.31 145.51 L840.37 145.26 L840.43 145.01 L840.49 144.76 L840.55 144.52 L840.61 144.29 L840.67 144.05 L840.72 143.83 L840.78 143.60 L840.84 143.38 L840.90 143.16 L840.96 142.95 L841.02 142.74 L841.08 142.54 L841.14 142.34 L841.19 142.14 L841.25 141.95 L841.30 141.78 L841.31 141.76 L841.37 141.57 L841.43 141.39 L841.49 141.21 L841.55 141.03 L841.61 140.86 L841.66 140.69 L841.72 140.52 L841.78 140.36 L841.84 140.20 L841.90 140.04 L841.96 139.88 L842.02 139.73 L842.08 139.58 L842.13 139.44 L842.19 139.29 L842.25 139.15 L842.31 139.02 L842.37 138.88 L842.43 138.75 L842.49 138.62 L842.55 138.49 L842.60 138.37 L842.66 138.25 L842.72 138.13 L842.78 138.01 L842.84 137.90 L842.90 137.78 L842.96 137.67 L843.02 137.56 L843.08 137.46 L843.13 137.36 L843.19 137.25 L843.25 137.15 L843.31 137.06 L843.37 136.96 L843.43 136.87 L843.49 136.78 L843.55 136.69 L843.60 136.60 L843.66 136.51 L843.72 136.43 L843.78 136.34 L843.84 136.26 L843.90 136.18 L843.96 136.11 L844.02 136.03 L844.07 135.96 L844.13 135.88 L844.19 135.81 L844.25 135.74 L844.31 135.67 L844.37 135.61 L844.43 135.54 L844.49 135.48 L844.54 135.41 L844.60 135.35 L844.61 135.34 L844.66 135.29 L844.72 135.23 L844.78 135.17 L844.84 135.12 L844.90 135.06 L844.96 135.01 L845.01 134.95 L845.07 134.90 L845.13 134.85 L845.19 134.80 L845.25 134.75 L845.31 134.71 L845.37 134.66 L845.43 134.61 L845.48 134.57 L845.54 134.53 L845.60 134.48 L845.66 134.44 L845.72 134.40 L845.78 134.36 L845.84 134.32 L845.90 134.28 L845.95 134.25 L846.01 134.21 L846.07 134.17 L846.13 134.14 L846.19 134.10 L846.25 134.07 L846.26 134.06 L846.31 134.04 L846.37 134.00 L846.42 133.97 L846.48 133.94 L846.54 133.91 L846.60 133.88 L846.66 133.85 L846.72 133.83 L846.78 133.80 L846.84 133.77 L846.89 133.74 L846.95 133.72 L847.01 133.69 L847.07 133.67 L847.13 133.64 L847.19 133.62 L847.25 133.60 L847.31 133.58 L847.37 133.55 L847.42 133.53 L847.48 133.51 L847.54 133.49 L847.60 133.47 L847.66 133.45 L847.72 133.43 L847.78 133.41 L847.84 133.39 L847.89 133.37 L847.92 133.37 L847.95 133.36 L848.01 133.34 L848.07 133.32 L848.13 133.31 L848.19 133.29 L848.25 133.27 L848.31 133.26 L848.36 133.24 L848.42 133.23 L848.48 133.21 L848.54 133.20 L848.60 133.19 L848.66 133.17 L848.72 133.16 L848.78 133.15 L848.83 133.13 L848.89 133.12 L848.95 133.11 L849.01 133.10 L849.07 133.09 L849.13 133.07 L849.19 133.06 L849.25 133.05 L849.30 133.04 L849.36 133.03 L849.42 133.02 L849.48 133.01 L849.54 133.00 L849.60 132.99 L849.66 132.98 L849.72 132.97 L849.77 132.96 L849.83 132.96 L849.89 132.95 L849.95 132.94 L850.01 132.93 L850.07 132.92 L850.13 132.92 L850.19 132.91 L850.24 132.90 L850.30 132.89 L850.36 132.89 L850.42 132.88 L850.48 132.87 L850.54 132.87 L850.60 132.86 L850.66 132.85 L850.71 132.85 L850.77 132.84 L850.83 132.83 L850.89 132.83 L850.95 132.82 L851.01 132.82 L851.07 132.81 L851.13 132.81 L851.18 132.80 L851.24 132.80 L851.36 132.79 L851.48 132.78 L851.60 132.77 L851.71 132.76 L851.83 132.75 L851.95 132.74 L852.07 132.74 L852.18 132.73 L852.30 132.72 L852.42 132.72 L852.54 132.71 L852.65 132.70 L852.77 132.70 L852.89 132.69 L853.01 132.69 L853.18 132.68 L853.36 132.67 L853.54 132.67 L853.71 132.66 L853.89 132.66 L854.06 132.65 L854.30 132.64 L854.53 132.64 L854.77 132.63 L855.06 132.63 L855.36 132.62 L855.71 132.61 L856.06 132.61 L856.47 132.60 L857.00 132.60 L857.65 132.59 L858.47 132.59 L859.65 132.58 L861.88 132.58 L882.62 132.57" fill="none" stroke="#0000ff" stroke-width="3.80" stroke-linejoin="round" stroke-linecap="butt" stroke-dasharray="2.1 5.198"/>
<path d="M882.62 132.57 L1101.59 132.57" fill="none" stroke="#0000ff" stroke-width="3.80" stroke-linejoin="round" stroke-linecap="butt" stroke-dasharray="2.1 5.198"/>
<path d="M221.50 599.38 L789.60 599.38 L791.42 599.37 L792.48 599.37 L793.24 599.36 L793.83 599.36 L794.30 599.35 L794.71 599.35 L795.06 599.34 L795.42 599.34 L795.71 599.33 L795.94 599.33 L796.18 599.32 L796.41 599.32 L796.65 599.31 L796.83 599.30 L797.00 599.30 L797.18 599.29 L797.35 599.28 L797.53 599.28 L797.71 599.27 L797.82 599.27 L797.94 599.26 L798.06 599.25 L798.18 599.25 L798.29 599.24 L798.41 599.23 L798.53 599.23 L798.65 599.22 L798.76 599.21 L798.88 599.21 L799.00 599.20 L799.12 599.19 L799.24 599.18 L799.35 599.17 L799.41 599.16 L799.47 599.16 L799.53 599.15 L799.59 599.15 L799.65 599.14 L799.71 599.14 L799.76 599.13 L799.82 599.13 L799.88 599.12 L799.94 599.12 L800.00 599.11 L800.06 599.10 L800.12 599.10 L800.18 599.09 L800.23 599.08 L800.29 599.08 L800.35 599.07 L800.41 599.06 L800.47 599.05 L800.53 599.05 L800.59 599.04 L800.65 599.03 L800.70 599.02 L800.76 599.02 L800.82 599.01 L800.88 599.00 L800.94 598.99 L801.00 598.98 L801.06 598.97 L801.12 598.96 L801.17 598.95 L801.23 598.94 L801.29 598.93 L801.35 598.92 L801.41 598.91 L801.47 598.90 L801.53 598.89 L801.59 598.88 L801.64 598.87 L801.64 598.87 L801.70 598.86 L801.76 598.84 L801.82 598.83 L801.88 598.82 L801.94 598.81 L802.00 598.79 L802.06 598.78 L802.11 598.77 L802.17 598.75 L802.23 598.74 L802.29 598.72 L802.35 598.71 L802.41 598.69 L802.47 598.68 L802.53 598.66 L802.58 598.64 L802.64 598.63 L802.70 598.61 L802.76 598.59 L802.82 598.57 L802.88 598.56 L802.94 598.54 L803.00 598.52 L803.05 598.50 L803.11 598.48 L803.17 598.46 L803.23 598.44 L803.29 598.42 L803.35 598.39 L803.41 598.37 L803.47 598.35 L803.53 598.33 L803.58 598.30 L803.64 598.28 L803.70 598.25 L803.76 598.23 L803.82 598.20 L803.88 598.17 L803.94 598.15 L804.00 598.12 L804.05 598.09 L804.11 598.06 L804.17 598.03 L804.23 598.00 L804.29 597.97 L804.35 597.94 L804.41 597.90 L804.47 597.87 L804.52 597.84 L804.58 597.80 L804.64 597.77 L804.70 597.73 L804.76 597.69 L804.82 597.66 L804.88 597.62 L804.94 597.58 L804.94 597.57 L804.99 597.54 L805.05 597.49 L805.11 597.45 L805.17 597.41 L805.23 597.37 L805.29 597.32 L805.35 597.27 L805.41 597.23 L805.46 597.18 L805.52 597.13 L805.58 597.08 L805.64 597.03 L805.70 596.97 L805.76 596.92 L805.82 596.87 L805.88 596.81 L805.93 596.75 L805.99 596.69 L806.05 596.64 L806.11 596.57 L806.17 596.51 L806.23 596.45 L806.29 596.38 L806.35 596.32 L806.40 596.25 L806.46 596.18 L806.52 596.11 L806.58 596.04 L806.60 596.02 L806.64 595.96 L806.70 595.89 L806.76 595.81 L806.82 595.73 L806.87 595.65 L806.93 595.57 L806.99 595.49 L807.05 595.40 L807.11 595.31 L807.17 595.22 L807.23 595.13 L807.29 595.04 L807.34 594.95 L807.40 594.85 L807.46 594.75 L807.52 594.65 L807.58 594.55 L807.64 594.44 L807.70 594.33 L807.76 594.22 L807.82 594.11 L807.87 594.00 L807.93 593.88 L807.99 593.76 L808.05 593.64 L808.11 593.52 L808.17 593.39 L808.23 593.27 L808.25 593.22 L808.29 593.14 L808.34 593.00 L808.40 592.87 L808.46 592.73 L808.52 592.58 L808.58 592.44 L808.64 592.29 L808.70 592.14 L808.76 591.99 L808.81 591.83 L808.87 591.67 L808.93 591.51 L808.99 591.35 L809.05 591.18 L809.11 591.01 L809.17 590.83 L809.23 590.65 L809.28 590.47 L809.34 590.29 L809.40 590.10 L809.46 589.90 L809.52 589.71 L809.58 589.51 L809.64 589.31 L809.70 589.10 L809.75 588.89 L809.81 588.67 L809.87 588.45 L809.90 588.34 L809.93 588.23 L809.99 588.01 L810.05 587.78 L810.11 587.54 L810.17 587.30 L810.22 587.06 L810.28 586.81 L810.34 586.56 L810.40 586.30 L810.46 586.04 L810.52 585.78 L810.58 585.51 L810.64 585.24 L810.69 584.96 L810.75 584.67 L810.81 584.39 L810.87 584.09 L810.93 583.80 L810.99 583.49 L811.05 583.19 L811.11 582.87 L811.16 582.56 L811.22 582.23 L811.28 581.91 L811.34 581.57 L811.40 581.24 L811.46 580.89 L811.52 580.55 L811.55 580.33 L811.58 580.19 L811.63 579.83 L811.69 579.47 L811.75 579.10 L811.81 578.72 L811.87 578.34 L811.93 577.96 L811.99 577.56 L812.05 577.17 L812.11 576.76 L812.16 576.36 L812.22 575.94 L812.28 575.52 L812.34 575.09 L812.40 574.66 L812.46 574.22 L812.52 573.78 L812.58 573.33 L812.63 572.88 L812.69 572.42 L812.75 571.95 L812.81 571.48 L812.87 571.00 L812.93 570.51 L812.99 570.02 L813.05 569.52 L813.10 569.02 L813.16 568.51 L813.21 568.13 L813.22 568.00 L813.28 567.48 L813.34 566.95 L813.40 566.42 L813.46 565.88 L813.52 565.33 L813.57 564.78 L813.63 564.23 L813.69 563.66 L813.75 563.09 L813.81 562.52 L813.87 561.94 L813.93 561.35 L813.99 560.76 L814.04 560.16 L814.10 559.56 L814.16 558.94 L814.22 558.33 L814.28 557.71 L814.34 557.08 L814.40 556.44 L814.46 555.80 L814.51 555.16 L814.57 554.51 L814.63 553.85 L814.69 553.19 L814.75 552.52 L814.81 551.85 L814.86 551.25 L814.87 551.17 L814.93 550.48 L814.98 549.79 L815.04 549.10 L815.10 548.40 L815.16 547.69 L815.22 546.98 L815.28 546.26 L815.34 545.54 L815.40 544.81 L815.45 544.08 L815.51 543.34 L815.57 542.59 L815.63 541.85 L815.69 541.09 L815.75 540.33 L815.81 539.57 L815.87 538.80 L815.92 538.03 L815.98 537.25 L816.04 536.47 L816.10 535.68 L816.16 534.89 L816.22 534.10 L816.28 533.30 L816.34 532.49 L816.39 531.68 L816.45 530.87 L816.51 530.05 L816.57 529.23 L816.63 528.40 L816.69 527.57 L816.75 526.73 L816.81 525.90 L816.87 525.05 L816.92 524.21 L816.98 523.36 L817.04 522.50 L817.10 521.64 L817.16 520.78 L817.22 519.92 L817.28 519.05 L817.34 518.17 L817.39 517.30 L817.45 516.42 L817.51 515.53 L817.57 514.65 L817.63 513.76 L817.69 512.86 L817.75 511.97 L817.81 511.07 L817.86 510.17 L817.92 509.26 L817.98 508.35 L818.04 507.44 L818.10 506.52 L818.16 505.61 L818.17 505.49 L818.22 504.69 L818.28 503.76 L818.33 502.84 L818.39 501.91 L818.45 500.98 L818.51 500.04 L818.57 499.11 L818.63 498.17 L818.69 497.23 L818.75 496.28 L818.80 495.34 L818.86 494.39 L818.92 493.44 L818.98 492.49 L819.04 491.53 L819.10 490.57 L819.16 489.61 L819.22 488.65 L819.27 487.69 L819.33 486.72 L819.39 485.75 L819.45 484.79 L819.51 483.81 L819.57 482.84 L819.63 481.87 L819.69 480.89 L819.74 479.91 L819.80 478.93 L819.82 478.68 L819.86 477.95 L819.92 476.96 L819.98 475.98 L820.04 474.99 L820.10 474.00 L820.16 473.01 L820.21 472.02 L820.27 471.03 L820.33 470.03 L820.39 469.04 L820.45 468.04 L820.51 467.04 L820.57 466.04 L820.63 465.04 L820.68 464.04 L820.74 463.03 L820.80 462.03 L820.86 461.02 L820.92 460.01 L820.98 459.01 L821.04 458.00 L821.10 456.98 L821.16 455.97 L821.21 454.96 L821.27 453.95 L821.33 452.93 L821.39 451.92 L821.45 450.90 L821.47 450.52 L821.51 449.88 L821.57 448.86 L821.63 447.84 L821.68 446.82 L821.74 445.80 L821.80 444.78 L821.86 443.76 L821.92 442.73 L821.98 441.71 L822.04 440.68 L822.10 439.66 L822.15 438.63 L822.21 437.60 L822.27 436.57 L822.33 435.55 L822.39 434.52 L822.45 433.49 L822.51 432.46 L822.57 431.42 L822.62 430.39 L822.68 429.36 L822.74 428.33 L822.80 427.29 L822.86 426.26 L822.92 425.23 L822.98 424.19 L823.04 423.16 L823.09 422.12 L823.12 421.60 L823.15 421.08 L823.21 420.05 L823.27 419.01 L823.33 417.97 L823.39 416.93 L823.45 415.90 L823.51 414.86 L823.56 413.82 L823.62 412.78 L823.68 411.74 L823.74 410.70 L823.80 409.66 L823.86 408.62 L823.92 407.58 L823.98 406.54 L824.03 405.50 L824.09 404.45 L824.15 403.41 L824.21 402.37 L824.27 401.33 L824.33 400.29 L824.39 399.24 L824.45 398.20 L824.50 397.16 L824.56 396.11 L824.62 395.07 L824.68 394.03 L824.74 392.98 L824.78 392.33 L824.80 391.94 L824.86 390.90 L824.92 389.85 L824.97 388.81 L825.03 387.76 L825.09 386.72 L825.15 385.68 L825.21 384.63 L825.27 383.59 L825.33 382.54 L825.39 381.50 L825.45 380.46 L825.50 379.41 L825.56 378.37 L825.62 377.32 L825.68 376.28 L825.74 375.24 L825.80 374.19 L825.86 373.15 L825.92 372.10 L825.97 371.06 L826.03 370.02 L826.09 368.97 L826.15 367.93 L826.21 366.89 L826.27 365.85 L826.33 364.80 L826.39 363.76 L826.43 362.98 L826.44 362.72 L826.50 361.68 L826.56 360.63 L826.62 359.59 L826.68 358.55 L826.74 357.51 L826.80 356.47 L826.86 355.43 L826.91 354.39 L826.97 353.35 L827.03 352.31 L827.09 351.27 L827.15 350.23 L827.21 349.19 L827.27 348.15 L827.33 347.11 L827.38 346.08 L827.44 345.04 L827.50 344.00 L827.56 342.96 L827.62 341.93 L827.68 340.89 L827.74 339.86 L827.80 338.82 L827.85 337.79 L827.91 336.76 L827.97 335.72 L828.03 334.69 L828.08 333.79 L828.09 333.66 L828.15 332.63 L828.21 331.60 L828.27 330.57 L828.32 329.54 L828.38 328.51 L828.44 327.48 L828.50 326.45 L828.56 325.42 L828.62 324.40 L828.68 323.37 L828.74 322.35 L828.79 321.32 L828.85 320.30 L828.91 319.28 L828.97 318.26 L829.03 317.24 L829.09 316.22 L829.15 315.20 L829.21 314.18 L829.26 313.16 L829.32 312.14 L829.38 311.13 L829.44 310.11 L829.50 309.10 L829.56 308.09 L829.62 307.08 L829.68 306.07 L829.73 305.06 L829.79 304.05 L829.85 303.04 L829.91 302.04 L829.97 301.03 L830.03 300.03 L830.09 299.03 L830.15 298.03 L830.21 297.03 L830.26 296.03 L830.32 295.03 L830.38 294.04 L830.44 293.05 L830.50 292.05 L830.56 291.06 L830.62 290.07 L830.68 289.09 L830.73 288.10 L830.79 287.12 L830.85 286.13 L830.91 285.15 L830.97 284.17 L831.03 283.19 L831.09 282.22 L831.15 281.24 L831.20 280.27 L831.26 279.30 L831.32 278.33 L831.38 277.37 L831.39 277.25 L831.44 276.40 L831.50 275.44 L831.56 274.48 L831.62 273.52 L831.67 272.56 L831.73 271.61 L831.79 270.66 L831.85 269.71 L831.91 268.76 L831.97 267.82 L832.03 266.87 L832.09 265.93 L832.14 265.00 L832.20 264.06 L832.26 263.13 L832.32 262.20 L832.38 261.27 L832.44 260.35 L832.50 259.43 L832.56 258.51 L832.61 257.59 L832.67 256.68 L832.73 255.77 L832.79 254.86 L832.85 253.96 L832.91 253.06 L832.97 252.16 L833.03 251.26 L833.04 251.04 L833.08 250.37 L833.14 249.49 L833.20 248.60 L833.26 247.72 L833.32 246.84 L833.38 245.97 L833.44 245.10 L833.50 244.23 L833.55 243.37 L833.61 242.51 L833.67 241.65 L833.73 240.80 L833.79 239.95 L833.85 239.10 L833.91 238.26 L833.97 237.43 L834.02 236.59 L834.08 235.77 L834.14 234.94 L834.20 234.12 L834.26 233.31 L834.32 232.49 L834.38 231.69 L834.44 230.88 L834.50 230.09 L834.55 229.29 L834.61 228.50 L834.67 227.72 L834.69 227.43 L834.73 226.94 L834.79 226.17 L834.85 225.40 L834.91 224.63 L834.97 223.87 L835.02 223.11 L835.08 222.36 L835.14 221.62 L835.20 220.88 L835.26 220.14 L835.32 219.41 L835.38 218.69 L835.44 217.97 L835.49 217.25 L835.55 216.55 L835.61 215.84 L835.67 215.14 L835.73 214.45 L835.79 213.76 L835.85 213.08 L835.91 212.41 L835.96 211.73 L836.02 211.07 L836.08 210.41 L836.14 209.76 L836.20 209.11 L836.26 208.47 L836.32 207.83 L836.35 207.51 L836.38 207.20 L836.43 206.57 L836.49 205.96 L836.55 205.34 L836.61 204.74 L836.67 204.13 L836.73 203.54 L836.79 202.95 L836.85 202.37 L836.90 201.79 L836.96 201.22 L837.02 200.65 L837.08 200.09 L837.14 199.54 L837.20 198.99 L837.26 198.45 L837.32 197.91 L837.37 197.38 L837.43 196.86 L837.49 196.34 L837.55 195.83 L837.61 195.33 L837.67 194.83 L837.73 194.33 L837.79 193.85 L837.84 193.36 L837.90 192.89 L837.96 192.42 L838.00 192.13 L838.02 191.96 L838.08 191.50 L838.14 191.05 L838.20 190.60 L838.26 190.16 L838.31 189.73 L838.37 189.30 L838.43 188.87 L838.49 188.46 L838.55 188.05 L838.61 187.64 L838.67 187.24 L838.73 186.85 L838.79 186.46 L838.84 186.07 L838.90 185.70 L838.96 185.32 L839.02 184.96 L839.08 184.60 L839.14 184.24 L839.20 183.89 L839.26 183.54 L839.31 183.20 L839.37 182.87 L839.43 182.54 L839.49 182.21 L839.55 181.90 L839.61 181.58 L839.65 181.35 L839.67 181.27 L839.73 180.97 L839.78 180.67 L839.84 180.37 L839.90 180.08 L839.96 179.80 L840.02 179.52 L840.08 179.24 L840.14 178.97 L840.20 178.70 L840.25 178.44 L840.31 178.18 L840.37 177.93 L840.43 177.68 L840.49 177.43 L840.55 177.19 L840.61 176.96 L840.67 176.73 L840.72 176.50 L840.78 176.27 L840.84 176.05 L840.90 175.84 L840.96 175.62 L841.02 175.42 L841.08 175.21 L841.14 175.01 L841.19 174.81 L841.25 174.62 L841.30 174.45 L841.31 174.43 L841.37 174.24 L841.43 174.06 L841.49 173.88 L841.55 173.70 L841.61 173.53 L841.66 173.36 L841.72 173.19 L841.78 173.03 L841.84 172.87 L841.90 172.71 L841.96 172.56 L842.02 172.40 L842.08 172.26 L842.13 172.11 L842.19 171.97 L842.25 171.83 L842.31 171.69 L842.37 171.55 L842.43 171.42 L842.49 171.29 L842.55 171.17 L842.60 171.04 L842.66 170.92 L842.72 170.80 L842.78 170.68 L842.84 170.57 L842.90 170.45 L842.96 170.34 L843.02 170.24 L843.08 170.13 L843.13 170.03 L843.19 169.93 L843.25 169.83 L843.31 169.73 L843.37 169.63 L843.43 169.54 L843.49 169.45 L843.55 169.36 L843.60 169.27 L843.66 169.18 L843.72 169.10 L843.78 169.02 L843.84 168.93 L843.90 168.86 L843.96 168.78 L844.02 168.70 L844.07 168.63 L844.13 168.55 L844.19 168.48 L844.25 168.41 L844.31 168.34 L844.37 168.28 L844.43 168.21 L844.49 168.15 L844.54 168.08 L844.60 168.02 L844.61 168.02 L844.66 167.96 L844.72 167.90 L844.78 167.85 L844.84 167.79 L844.90 167.73 L844.96 167.68 L845.01 167.63 L845.07 167.57 L845.13 167.52 L845.19 167.47 L845.25 167.43 L845.31 167.38 L845.37 167.33 L845.43 167.29 L845.48 167.24 L845.54 167.20 L845.60 167.15 L845.66 167.11 L845.72 167.07 L845.78 167.03 L845.84 166.99 L845.90 166.95 L845.95 166.92 L846.01 166.88 L846.07 166.84 L846.13 166.81 L846.19 166.78 L846.25 166.74 L846.26 166.73 L846.31 166.71 L846.37 166.68 L846.42 166.64 L846.48 166.61 L846.54 166.58 L846.60 166.55 L846.66 166.53 L846.72 166.50 L846.78 166.47 L846.84 166.44 L846.89 166.42 L846.95 166.39 L847.01 166.37 L847.07 166.34 L847.13 166.32 L847.19 166.29 L847.25 166.27 L847.31 166.25 L847.37 166.22 L847.42 166.20 L847.48 166.18 L847.54 166.16 L847.60 166.14 L847.66 166.12 L847.72 166.10 L847.78 166.08 L847.84 166.06 L847.89 166.05 L847.92 166.04 L847.95 166.03 L848.01 166.01 L848.07 165.99 L848.13 165.98 L848.19 165.96 L848.25 165.95 L848.31 165.93 L848.36 165.92 L848.42 165.90 L848.48 165.89 L848.54 165.87 L848.60 165.86 L848.66 165.84 L848.72 165.83 L848.78 165.82 L848.83 165.81 L848.89 165.79 L848.95 165.78 L849.01 165.77 L849.07 165.76 L849.13 165.75 L849.19 165.73 L849.25 165.72 L849.30 165.71 L849.36 165.70 L849.42 165.69 L849.48 165.68 L849.54 165.67 L849.60 165.66 L849.66 165.65 L849.72 165.65 L849.77 165.64 L849.83 165.63 L849.89 165.62 L849.95 165.61 L850.01 165.60 L850.07 165.59 L850.13 165.59 L850.19 165.58 L850.24 165.57 L850.30 165.56 L850.36 165.56 L850.42 165.55 L850.48 165.54 L850.54 165.54 L850.60 165.53 L850.66 165.52 L850.71 165.52 L850.77 165.51 L850.83 165.51 L850.89 165.50 L850.95 165.50 L851.01 165.49 L851.07 165.48 L851.13 165.48 L851.18 165.47 L851.24 165.47 L851.36 165.46 L851.48 165.45 L851.60 165.44 L851.71 165.43 L851.83 165.42 L851.95 165.42 L852.07 165.41 L852.18 165.40 L852.30 165.39 L852.42 165.39 L852.54 165.38 L852.65 165.38 L852.77 165.37 L852.89 165.36 L853.01 165.36 L853.18 165.35 L853.36 165.35 L853.54 165.34 L853.71 165.33 L853.89 165.33 L854.06 165.32 L854.30 165.32 L854.53 165.31 L854.77 165.30 L855.06 165.30 L855.36 165.29 L855.71 165.29 L856.06 165.28 L856.47 165.28 L857.00 165.27 L857.65 165.27 L858.47 165.26 L859.65 165.26 L861.88 165.25 L882.62 165.25" fill="none" stroke="#8800ee" stroke-width="3.80" stroke-linejoin="round" stroke-linecap="butt" stroke-dasharray="10.4 10.44"/>
<path d="M882.62 165.25 L1101.59 165.25" fill="none" stroke="#8800ee" stroke-width="3.80" stroke-linejoin="round" stroke-linecap="butt" stroke-dasharray="10.4 10.44"/>
<path d="M221.50 316.97 L801.59 316.97 L803.41 316.96 L804.47 316.96 L805.23 316.95 L805.82 316.95 L806.29 316.94 L806.70 316.94 L807.05 316.93 L807.40 316.93 L807.70 316.92 L807.93 316.92 L808.17 316.91 L808.40 316.90 L808.64 316.90 L808.81 316.89 L808.99 316.89 L809.17 316.88 L809.34 316.87 L809.52 316.87 L809.70 316.86 L809.81 316.85 L809.93 316.85 L810.05 316.84 L810.17 316.84 L810.28 316.83 L810.40 316.82 L810.52 316.82 L810.64 316.81 L810.75 316.80 L810.87 316.79 L810.99 316.79 L811.11 316.78 L811.22 316.77 L811.34 316.76 L811.40 316.75 L811.46 316.75 L811.52 316.74 L811.58 316.74 L811.63 316.73 L811.69 316.73 L811.75 316.72 L811.81 316.72 L811.87 316.71 L811.93 316.70 L811.99 316.70 L812.05 316.69 L812.11 316.68 L812.16 316.68 L812.22 316.67 L812.28 316.66 L812.34 316.66 L812.40 316.65 L812.46 316.64 L812.52 316.64 L812.58 316.63 L812.63 316.62 L812.69 316.61 L812.75 316.60 L812.81 316.60 L812.87 316.59 L812.93 316.58 L812.99 316.57 L813.05 316.56 L813.10 316.55 L813.16 316.54 L813.21 316.53 L813.22 316.53 L813.28 316.52 L813.34 316.51 L813.40 316.50 L813.46 316.49 L813.52 316.48 L813.57 316.47 L813.63 316.45 L813.69 316.44 L813.75 316.43 L813.81 316.42 L813.87 316.41 L813.93 316.39 L813.99 316.38 L814.04 316.37 L814.10 316.35 L814.16 316.34 L814.22 316.32 L814.28 316.31 L814.34 316.29 L814.40 316.28 L814.46 316.26 L814.51 316.25 L814.57 316.23 L814.63 316.21 L814.69 316.20 L814.75 316.18 L814.81 316.16 L814.86 316.14 L814.87 316.14 L814.93 316.12 L814.98 316.10 L815.04 316.08 L815.10 316.06 L815.16 316.04 L815.22 316.02 L815.28 316.00 L815.34 315.98 L815.40 315.96 L815.45 315.93 L815.51 315.91 L815.57 315.89 L815.63 315.86 L815.69 315.84 L815.75 315.81 L815.81 315.78 L815.87 315.76 L815.92 315.73 L815.98 315.70 L816.04 315.67 L816.10 315.64 L816.16 315.61 L816.22 315.58 L816.28 315.55 L816.34 315.52 L816.39 315.49 L816.45 315.45 L816.51 315.42 L816.57 315.38 L816.63 315.35 L816.69 315.31 L816.75 315.28 L816.81 315.24 L816.87 315.20 L816.92 315.16 L816.98 315.12 L817.04 315.08 L817.10 315.03 L817.16 314.99 L817.22 314.95 L817.28 314.90 L817.34 314.85 L817.39 314.81 L817.45 314.76 L817.51 314.71 L817.57 314.66 L817.63 314.61 L817.69 314.55 L817.75 314.50 L817.81 314.45 L817.86 314.39 L817.92 314.33 L817.98 314.27 L818.04 314.21 L818.10 314.15 L818.16 314.09 L818.17 314.08 L818.22 314.03 L818.28 313.96 L818.33 313.89 L818.39 313.83 L818.45 313.76 L818.51 313.68 L818.57 313.61 L818.63 313.54 L818.69 313.46 L818.75 313.39 L818.80 313.31 L818.86 313.23 L818.92 313.14 L818.98 313.06 L819.04 312.97 L819.10 312.89 L819.16 312.80 L819.22 312.71 L819.27 312.61 L819.33 312.52 L819.39 312.42 L819.45 312.32 L819.51 312.22 L819.57 312.12 L819.63 312.01 L819.69 311.91 L819.74 311.80 L819.80 311.68 L819.82 311.66 L819.86 311.57 L819.92 311.45 L819.98 311.33 L820.04 311.21 L820.10 311.09 L820.16 310.96 L820.21 310.84 L820.27 310.70 L820.33 310.57 L820.39 310.43 L820.45 310.29 L820.51 310.15 L820.57 310.01 L820.63 309.86 L820.68 309.71 L820.74 309.56 L820.80 309.40 L820.86 309.24 L820.92 309.08 L820.98 308.91 L821.04 308.74 L821.10 308.57 L821.16 308.40 L821.21 308.22 L821.27 308.04 L821.33 307.85 L821.39 307.66 L821.45 307.47 L821.47 307.40 L821.51 307.27 L821.57 307.07 L821.63 306.87 L821.68 306.66 L821.74 306.45 L821.80 306.24 L821.86 306.02 L821.92 305.80 L821.98 305.57 L822.04 305.34 L822.10 305.11 L822.15 304.87 L822.21 304.63 L822.27 304.38 L822.33 304.13 L822.39 303.87 L822.45 303.61 L822.51 303.35 L822.57 303.08 L822.62 302.81 L822.68 302.53 L822.74 302.25 L822.80 301.96 L822.86 301.67 L822.92 301.37 L822.98 301.07 L823.04 300.76 L823.09 300.45 L823.12 300.30 L823.15 300.14 L823.21 299.82 L823.27 299.49 L823.33 299.16 L823.39 298.82 L823.45 298.48 L823.51 298.13 L823.56 297.78 L823.62 297.42 L823.68 297.06 L823.74 296.69 L823.80 296.32 L823.86 295.94 L823.92 295.56 L823.98 295.17 L824.03 294.77 L824.09 294.37 L824.15 293.97 L824.21 293.56 L824.27 293.14 L824.33 292.72 L824.39 292.29 L824.45 291.85 L824.50 291.41 L824.56 290.97 L824.62 290.52 L824.68 290.06 L824.74 289.60 L824.78 289.31 L824.80 289.13 L824.86 288.65 L824.92 288.17 L824.97 287.69 L825.03 287.20 L825.09 286.70 L825.15 286.20 L825.21 285.69 L825.27 285.17 L825.33 284.65 L825.39 284.13 L825.45 283.59 L825.50 283.06 L825.56 282.51 L825.62 281.96 L825.68 281.41 L825.74 280.85 L825.80 280.28 L825.86 279.71 L825.92 279.13 L825.97 278.55 L826.03 277.96 L826.09 277.36 L826.15 276.76 L826.21 276.16 L826.27 275.55 L826.33 274.93 L826.39 274.31 L826.43 273.84 L826.44 273.68 L826.50 273.05 L826.56 272.41 L826.62 271.76 L826.68 271.11 L826.74 270.46 L826.80 269.80 L826.86 269.14 L826.91 268.47 L826.97 267.79 L827.03 267.11 L827.09 266.43 L827.15 265.74 L827.21 265.04 L827.27 264.34 L827.33 263.64 L827.38 262.93 L827.44 262.22 L827.50 261.50 L827.56 260.78 L827.62 260.05 L827.68 259.32 L827.74 258.58 L827.80 257.84 L827.85 257.10 L827.91 256.35 L827.97 255.60 L828.03 254.84 L828.08 254.17 L828.09 254.08 L828.15 253.31 L828.21 252.54 L828.27 251.77 L828.32 251.00 L828.38 250.22 L828.44 249.43 L828.50 248.65 L828.56 247.86 L828.62 247.06 L828.68 246.26 L828.74 245.46 L828.79 244.66 L828.85 243.85 L828.91 243.04 L828.97 242.23 L829.03 241.42 L829.09 240.60 L829.15 239.78 L829.21 238.95 L829.26 238.13 L829.32 237.30 L829.38 236.47 L829.44 235.63 L829.50 234.80 L829.56 233.96 L829.62 233.12 L829.68 232.27 L829.73 231.43 L829.79 230.58 L829.85 229.73 L829.91 228.88 L829.97 228.03 L830.03 227.18 L830.09 226.32 L830.15 225.46 L830.21 224.60 L830.26 223.74 L830.32 222.88 L830.38 222.02 L830.44 221.16 L830.50 220.29 L830.56 219.43 L830.62 218.56 L830.68 217.69 L830.73 216.82 L830.79 215.95 L830.85 215.08 L830.91 214.21 L830.97 213.34 L831.03 212.47 L831.09 211.60 L831.15 210.73 L831.20 209.86 L831.26 208.98 L831.32 208.11 L831.38 207.24 L831.39 207.13 L831.44 206.37 L831.50 205.49 L831.56 204.62 L831.62 203.75 L831.67 202.88 L831.73 202.01 L831.79 201.14 L831.85 200.27 L831.91 199.40 L831.97 198.53 L832.03 197.66 L832.09 196.80 L832.14 195.93 L832.20 195.07 L832.26 194.20 L832.32 193.34 L832.38 192.48 L832.44 191.62 L832.50 190.76 L832.56 189.91 L832.61 189.05 L832.67 188.20 L832.73 187.34 L832.79 186.49 L832.85 185.65 L832.91 184.80 L832.97 183.96 L833.03 183.11 L833.04 182.90 L833.08 182.27 L833.14 181.43 L833.20 180.60 L833.26 179.77 L833.32 178.93 L833.38 178.11 L833.44 177.28 L833.50 176.46 L833.55 175.64 L833.61 174.82 L833.67 174.00 L833.73 173.19 L833.79 172.38 L833.85 171.58 L833.91 170.77 L833.97 169.97 L834.02 169.18 L834.08 168.38 L834.14 167.59 L834.20 166.81 L834.26 166.03 L834.32 165.25 L834.38 164.47 L834.44 163.70 L834.50 162.93 L834.55 162.17 L834.61 161.41 L834.67 160.65 L834.69 160.37 L834.73 159.90 L834.79 159.15 L834.85 158.41 L834.91 157.67 L834.97 156.94 L835.02 156.20 L835.08 155.48 L835.14 154.76 L835.20 154.04 L835.26 153.33 L835.32 152.62 L835.38 151.92 L835.44 151.22 L835.49 150.52 L835.55 149.84 L835.61 149.15 L835.67 148.47 L835.73 147.80 L835.79 147.13 L835.85 146.47 L835.91 145.81 L835.96 145.16 L836.02 144.51 L836.08 143.87 L836.14 143.23 L836.20 142.60 L836.26 141.97 L836.32 141.35 L836.35 141.04 L836.38 140.73 L836.43 140.12 L836.49 139.52 L836.55 138.92 L836.61 138.33 L836.67 137.74 L836.73 137.16 L836.79 136.58 L836.85 136.01 L836.90 135.44 L836.96 134.88 L837.02 134.33 L837.08 133.78 L837.14 133.24 L837.20 132.70 L837.26 132.17 L837.32 131.65 L837.37 131.13 L837.43 130.61 L837.49 130.11 L837.55 129.60 L837.61 129.11 L837.67 128.62 L837.73 128.13 L837.79 127.65 L837.84 127.18 L837.90 126.71 L837.96 126.25 L838.00 125.97 L838.02 125.80 L838.08 125.35 L838.14 124.90 L838.20 124.46 L838.26 124.03 L838.31 123.60 L838.37 123.18 L838.43 122.77 L838.49 122.36 L838.55 121.95 L838.61 121.55 L838.67 121.16 L838.73 120.77 L838.79 120.39 L838.84 120.01 L838.90 119.64 L838.96 119.27 L839.02 118.91 L839.08 118.55 L839.14 118.20 L839.20 117.86 L839.26 117.52 L839.31 117.18 L839.37 116.85 L839.43 116.53 L839.49 116.21 L839.55 115.89 L839.61 115.58 L839.65 115.35 L839.67 115.28 L839.73 114.98 L839.78 114.68 L839.84 114.39 L839.90 114.10 L839.96 113.82 L840.02 113.55 L840.08 113.27 L840.14 113.01 L840.20 112.74 L840.25 112.48 L840.31 112.23 L840.37 111.98 L840.43 111.73 L840.49 111.49 L840.55 111.25 L840.61 111.02 L840.67 110.79 L840.72 110.57 L840.78 110.34 L840.84 110.13 L840.90 109.91 L840.96 109.70 L841.02 109.50 L841.08 109.29 L841.14 109.10 L841.19 108.90 L841.25 108.71 L841.30 108.54 L841.31 108.52 L841.37 108.34 L841.43 108.16 L841.49 107.98 L841.55 107.80 L841.61 107.63 L841.66 107.46 L841.72 107.30 L841.78 107.14 L841.84 106.98 L841.90 106.82 L841.96 106.67 L842.02 106.52 L842.08 106.37 L842.13 106.23 L842.19 106.09 L842.25 105.95 L842.31 105.81 L842.37 105.68 L842.43 105.55 L842.49 105.42 L842.55 105.30 L842.60 105.17 L842.66 105.05 L842.72 104.93 L842.78 104.82 L842.84 104.70 L842.90 104.59 L842.96 104.48 L843.02 104.38 L843.08 104.27 L843.13 104.17 L843.19 104.07 L843.25 103.97 L843.31 103.87 L843.37 103.78 L843.43 103.69 L843.49 103.60 L843.55 103.51 L843.60 103.42 L843.66 103.33 L843.72 103.25 L843.78 103.17 L843.84 103.09 L843.90 103.01 L843.96 102.93 L844.02 102.86 L844.07 102.78 L844.13 102.71 L844.19 102.64 L844.25 102.57 L844.31 102.50 L844.37 102.44 L844.43 102.37 L844.49 102.31 L844.54 102.25 L844.60 102.19 L844.61 102.18 L844.66 102.13 L844.72 102.07 L844.78 102.01 L844.84 101.96 L844.90 101.90 L844.96 101.85 L845.01 101.79 L845.07 101.74 L845.13 101.69 L845.19 101.64 L845.25 101.60 L845.31 101.55 L845.37 101.50 L845.43 101.46 L845.48 101.41 L845.54 101.37 L845.60 101.33 L845.66 101.29 L845.72 101.25 L845.78 101.21 L845.84 101.17 L845.90 101.13 L845.95 101.09 L846.01 101.06 L846.07 101.02 L846.13 100.99 L846.19 100.95 L846.25 100.92 L846.26 100.91 L846.31 100.89 L846.37 100.85 L846.42 100.82 L846.48 100.79 L846.54 100.76 L846.60 100.73 L846.66 100.71 L846.72 100.68 L846.78 100.65 L846.84 100.62 L846.89 100.60 L846.95 100.57 L847.01 100.55 L847.07 100.52 L847.13 100.50 L847.19 100.47 L847.25 100.45 L847.31 100.43 L847.37 100.41 L847.42 100.39 L847.48 100.36 L847.54 100.34 L847.60 100.32 L847.66 100.30 L847.72 100.29 L847.78 100.27 L847.84 100.25 L847.89 100.23 L847.92 100.22 L847.95 100.21 L848.01 100.20 L848.07 100.18 L848.13 100.16 L848.19 100.15 L848.25 100.13 L848.31 100.12 L848.36 100.10 L848.42 100.09 L848.48 100.07 L848.54 100.06 L848.60 100.04 L848.66 100.03 L848.72 100.02 L848.78 100.00 L848.83 99.99 L848.89 99.98 L848.95 99.97 L849.01 99.96 L849.07 99.94 L849.13 99.93 L849.19 99.92 L849.25 99.91 L849.30 99.90 L849.36 99.89 L849.42 99.88 L849.48 99.87 L849.54 99.86 L849.60 99.85 L849.66 99.84 L849.72 99.83 L849.77 99.82 L849.83 99.82 L849.89 99.81 L849.95 99.80 L850.01 99.79 L850.07 99.78 L850.13 99.78 L850.19 99.77 L850.24 99.76 L850.30 99.75 L850.36 99.75 L850.42 99.74 L850.48 99.73 L850.54 99.73 L850.60 99.72 L850.66 99.71 L850.71 99.71 L850.77 99.70 L850.83 99.70 L850.89 99.69 L850.95 99.68 L851.01 99.68 L851.07 99.67 L851.13 99.67 L851.18 99.66 L851.24 99.66 L851.36 99.65 L851.48 99.64 L851.60 99.63 L851.71 99.62 L851.83 99.61 L851.95 99.61 L852.07 99.60 L852.18 99.59 L852.30 99.59 L852.42 99.58 L852.54 99.57 L852.65 99.57 L852.77 99.56 L852.89 99.56 L853.01 99.55 L853.18 99.54 L853.36 99.54 L853.54 99.53 L853.71 99.52 L853.89 99.52 L854.06 99.51 L854.30 99.51 L854.53 99.50 L854.77 99.50 L855.06 99.49 L855.36 99.48 L855.71 99.48 L856.06 99.47 L856.47 99.47 L857.00 99.46 L857.65 99.46 L858.47 99.45 L859.71 99.45 L862.06 99.44 L882.62 99.44" fill="none" stroke="#ff9000" stroke-width="3.80" stroke-linejoin="round" stroke-linecap="butt" stroke-dasharray="10.3 5.35 2.45 5.35"/>
<path d="M882.62 99.44 L1101.59 99.44" fill="none" stroke="#ff9000" stroke-width="3.80" stroke-linejoin="round" stroke-linecap="butt" stroke-dasharray="10.3 5.35 2.45 5.35"/>
<path d="M221.50 425.51 L795.59 425.50 L797.41 425.50 L798.47 425.49 L799.24 425.49 L799.82 425.48 L800.29 425.48 L800.70 425.47 L801.06 425.47 L801.41 425.46 L801.70 425.45 L801.94 425.45 L802.17 425.44 L802.41 425.44 L802.64 425.43 L802.82 425.43 L803.00 425.42 L803.17 425.41 L803.35 425.41 L803.53 425.40 L803.70 425.39 L803.82 425.39 L803.94 425.38 L804.05 425.38 L804.17 425.37 L804.29 425.36 L804.41 425.36 L804.52 425.35 L804.64 425.34 L804.76 425.34 L804.88 425.33 L804.99 425.32 L805.11 425.31 L805.23 425.30 L805.35 425.29 L805.41 425.29 L805.46 425.28 L805.52 425.28 L805.58 425.27 L805.64 425.27 L805.70 425.26 L805.76 425.26 L805.82 425.25 L805.88 425.24 L805.93 425.24 L805.99 425.23 L806.05 425.23 L806.11 425.22 L806.17 425.21 L806.23 425.21 L806.29 425.20 L806.35 425.19 L806.40 425.18 L806.46 425.18 L806.52 425.17 L806.58 425.16 L806.60 425.16 L806.64 425.15 L806.70 425.15 L806.76 425.14 L806.82 425.13 L806.87 425.12 L806.93 425.11 L806.99 425.10 L807.05 425.09 L807.11 425.08 L807.17 425.07 L807.23 425.06 L807.29 425.05 L807.34 425.04 L807.40 425.03 L807.46 425.02 L807.52 425.01 L807.58 425.00 L807.64 424.99 L807.70 424.98 L807.76 424.97 L807.82 424.95 L807.87 424.94 L807.93 424.93 L807.99 424.91 L808.05 424.90 L808.11 424.89 L808.17 424.87 L808.23 424.86 L808.25 424.85 L808.29 424.84 L808.34 424.83 L808.40 424.81 L808.46 424.80 L808.52 424.78 L808.58 424.77 L808.64 424.75 L808.70 424.73 L808.76 424.71 L808.81 424.70 L808.87 424.68 L808.93 424.66 L808.99 424.64 L809.05 424.62 L809.11 424.60 L809.17 424.58 L809.23 424.56 L809.28 424.54 L809.34 424.51 L809.40 424.49 L809.46 424.47 L809.52 424.45 L809.58 424.42 L809.64 424.40 L809.70 424.37 L809.75 424.35 L809.81 424.32 L809.87 424.29 L809.90 424.28 L809.93 424.27 L809.99 424.24 L810.05 424.21 L810.11 424.18 L810.17 424.15 L810.22 424.12 L810.28 424.09 L810.34 424.06 L810.40 424.02 L810.46 423.99 L810.52 423.96 L810.58 423.92 L810.64 423.89 L810.69 423.85 L810.75 423.81 L810.81 423.77 L810.87 423.74 L810.93 423.70 L810.99 423.65 L811.05 423.61 L811.11 423.57 L811.16 423.53 L811.22 423.48 L811.28 423.44 L811.34 423.39 L811.40 423.34 L811.46 423.30 L811.52 423.25 L811.55 423.22 L811.58 423.20 L811.63 423.14 L811.69 423.09 L811.75 423.04 L811.81 422.98 L811.87 422.93 L811.93 422.87 L811.99 422.81 L812.05 422.75 L812.11 422.69 L812.16 422.63 L812.22 422.56 L812.28 422.50 L812.34 422.43 L812.40 422.36 L812.46 422.30 L812.52 422.22 L812.58 422.15 L812.63 422.08 L812.69 422.00 L812.75 421.92 L812.81 421.85 L812.87 421.77 L812.93 421.68 L812.99 421.60 L813.05 421.51 L813.10 421.43 L813.16 421.34 L813.21 421.27 L813.22 421.25 L813.28 421.15 L813.34 421.06 L813.40 420.96 L813.46 420.86 L813.52 420.76 L813.57 420.66 L813.63 420.55 L813.69 420.45 L813.75 420.34 L813.81 420.22 L813.87 420.11 L813.93 419.99 L813.99 419.88 L814.04 419.75 L814.10 419.63 L814.16 419.50 L814.22 419.38 L814.28 419.24 L814.34 419.11 L814.40 418.97 L814.46 418.83 L814.51 418.69 L814.57 418.55 L814.63 418.40 L814.69 418.25 L814.75 418.10 L814.81 417.94 L814.86 417.80 L814.87 417.78 L814.93 417.62 L814.98 417.45 L815.04 417.28 L815.10 417.11 L815.16 416.94 L815.22 416.76 L815.28 416.57 L815.34 416.39 L815.40 416.20 L815.45 416.01 L815.51 415.81 L815.57 415.61 L815.63 415.41 L815.69 415.20 L815.75 414.99 L815.81 414.77 L815.87 414.56 L815.92 414.33 L815.98 414.11 L816.04 413.88 L816.10 413.64 L816.16 413.40 L816.22 413.16 L816.28 412.91 L816.34 412.66 L816.39 412.40 L816.45 412.14 L816.51 411.88 L816.57 411.61 L816.63 411.33 L816.69 411.05 L816.75 410.77 L816.81 410.48 L816.87 410.19 L816.92 409.89 L816.98 409.59 L817.04 409.28 L817.10 408.97 L817.16 408.65 L817.22 408.33 L817.28 408.00 L817.34 407.67 L817.39 407.33 L817.45 406.99 L817.51 406.64 L817.57 406.28 L817.63 405.92 L817.69 405.56 L817.75 405.19 L817.81 404.81 L817.86 404.43 L817.92 404.05 L817.98 403.65 L818.04 403.26 L818.10 402.85 L818.16 402.44 L818.17 402.39 L818.22 402.03 L818.28 401.61 L818.33 401.18 L818.39 400.75 L818.45 400.31 L818.51 399.87 L818.57 399.42 L818.63 398.96 L818.69 398.50 L818.75 398.03 L818.80 397.56 L818.86 397.08 L818.92 396.60 L818.98 396.11 L819.04 395.61 L819.10 395.11 L819.16 394.60 L819.22 394.08 L819.27 393.56 L819.33 393.04 L819.39 392.50 L819.45 391.96 L819.51 391.42 L819.57 390.87 L819.63 390.31 L819.69 389.75 L819.74 389.18 L819.80 388.61 L819.82 388.46 L819.86 388.02 L819.92 387.44 L819.98 386.85 L820.04 386.25 L820.10 385.64 L820.16 385.03 L820.21 384.42 L820.27 383.80 L820.33 383.17 L820.39 382.53 L820.45 381.90 L820.51 381.25 L820.57 380.60 L820.63 379.94 L820.68 379.28 L820.74 378.61 L820.80 377.94 L820.86 377.26 L820.92 376.58 L820.98 375.89 L821.04 375.20 L821.10 374.50 L821.16 373.79 L821.21 373.08 L821.27 372.36 L821.33 371.64 L821.39 370.91 L821.45 370.18 L821.47 369.91 L821.51 369.45 L821.57 368.70 L821.63 367.96 L821.68 367.21 L821.74 366.45 L821.80 365.69 L821.86 364.92 L821.92 364.15 L821.98 363.38 L822.04 362.59 L822.10 361.81 L822.15 361.02 L822.21 360.23 L822.27 359.43 L822.33 358.63 L822.39 357.82 L822.45 357.01 L822.51 356.19 L822.57 355.37 L822.62 354.55 L822.68 353.72 L822.74 352.89 L822.80 352.05 L822.86 351.21 L822.92 350.37 L822.98 349.52 L823.04 348.67 L823.09 347.82 L823.12 347.39 L823.15 346.96 L823.21 346.09 L823.27 345.23 L823.33 344.36 L823.39 343.49 L823.45 342.61 L823.51 341.73 L823.56 340.85 L823.62 339.96 L823.68 339.08 L823.74 338.18 L823.80 337.29 L823.86 336.39 L823.92 335.49 L823.98 334.59 L824.03 333.68 L824.09 332.77 L824.15 331.86 L824.21 330.94 L824.27 330.03 L824.33 329.11 L824.39 328.19 L824.45 327.26 L824.50 326.33 L824.56 325.40 L824.62 324.47 L824.68 323.54 L824.74 322.60 L824.78 322.01 L824.80 321.66 L824.86 320.72 L824.92 319.78 L824.97 318.83 L825.03 317.88 L825.09 316.94 L825.15 315.98 L825.21 315.03 L825.27 314.08 L825.33 313.12 L825.39 312.16 L825.45 311.20 L825.50 310.24 L825.56 309.28 L825.62 308.31 L825.68 307.34 L825.74 306.38 L825.80 305.41 L825.86 304.44 L825.92 303.46 L825.97 302.49 L826.03 301.51 L826.09 300.54 L826.15 299.56 L826.21 298.58 L826.27 297.60 L826.33 296.62 L826.39 295.64 L826.43 294.90 L826.44 294.66 L826.50 293.67 L826.56 292.69 L826.62 291.70 L826.68 290.71 L826.74 289.72 L826.80 288.73 L826.86 287.75 L826.91 286.75 L826.97 285.76 L827.03 284.77 L827.09 283.78 L827.15 282.79 L827.21 281.79 L827.27 280.80 L827.33 279.80 L827.38 278.81 L827.44 277.81 L827.50 276.81 L827.56 275.82 L827.62 274.82 L827.68 273.82 L827.74 272.82 L827.80 271.82 L827.85 270.82 L827.91 269.83 L827.97 268.83 L828.03 267.83 L828.08 266.95 L828.09 266.83 L828.15 265.83 L828.21 264.83 L828.27 263.83 L828.32 262.83 L828.38 261.83 L828.44 260.83 L828.50 259.83 L828.56 258.83 L828.62 257.83 L828.68 256.83 L828.74 255.83 L828.79 254.83 L828.85 253.83 L828.91 252.83 L828.97 251.84 L829.03 250.84 L829.09 249.84 L829.15 248.84 L829.21 247.85 L829.26 246.85 L829.32 245.85 L829.38 244.86 L829.44 243.86 L829.50 242.87 L829.56 241.88 L829.62 240.88 L829.68 239.89 L829.73 238.90 L829.79 237.91 L829.85 236.92 L829.91 235.93 L829.97 234.94 L830.03 233.95 L830.09 232.97 L830.15 231.98 L830.21 231.00 L830.26 230.01 L830.32 229.03 L830.38 228.05 L830.44 227.07 L830.50 226.09 L830.56 225.11 L830.62 224.13 L830.68 223.16 L830.73 222.18 L830.79 221.21 L830.85 220.24 L830.91 219.27 L830.97 218.30 L831.03 217.33 L831.09 216.37 L831.15 215.41 L831.20 214.44 L831.26 213.48 L831.32 212.52 L831.38 211.57 L831.39 211.45 L831.44 210.61 L831.50 209.66 L831.56 208.71 L831.62 207.76 L831.67 206.81 L831.73 205.86 L831.79 204.92 L831.85 203.98 L831.91 203.04 L831.97 202.10 L832.03 201.17 L832.09 200.23 L832.14 199.30 L832.20 198.37 L832.26 197.45 L832.32 196.53 L832.38 195.61 L832.44 194.69 L832.50 193.77 L832.56 192.86 L832.61 191.95 L832.67 191.04 L832.73 190.14 L832.79 189.24 L832.85 188.34 L832.91 187.44 L832.97 186.55 L833.03 185.66 L833.04 185.44 L833.08 184.77 L833.14 183.89 L833.20 183.01 L833.26 182.13 L833.32 181.26 L833.38 180.39 L833.44 179.52 L833.50 178.66 L833.55 177.80 L833.61 176.94 L833.67 176.09 L833.73 175.24 L833.79 174.40 L833.85 173.56 L833.91 172.72 L833.97 171.89 L834.02 171.06 L834.08 170.23 L834.14 169.41 L834.20 168.60 L834.26 167.78 L834.32 166.97 L834.38 166.17 L834.44 165.37 L834.50 164.58 L834.55 163.78 L834.61 163.00 L834.67 162.22 L834.69 161.93 L834.73 161.44 L834.79 160.67 L834.85 159.90 L834.91 159.14 L834.97 158.38 L835.02 157.63 L835.08 156.88 L835.14 156.13 L835.20 155.40 L835.26 154.66 L835.32 153.94 L835.38 153.21 L835.44 152.50 L835.49 151.78 L835.55 151.08 L835.61 150.37 L835.67 149.68 L835.73 148.99 L835.79 148.30 L835.85 147.62 L835.91 146.95 L835.96 146.28 L836.02 145.61 L836.08 144.96 L836.14 144.30 L836.20 143.66 L836.26 143.02 L836.32 142.38 L836.35 142.07 L836.38 141.75 L836.43 141.13 L836.49 140.51 L836.55 139.90 L836.61 139.29 L836.67 138.69 L836.73 138.10 L836.79 137.51 L836.85 136.93 L836.90 136.35 L836.96 135.78 L837.02 135.22 L837.08 134.66 L837.14 134.11 L837.20 133.56 L837.26 133.02 L837.32 132.49 L837.37 131.96 L837.43 131.43 L837.49 130.92 L837.55 130.41 L837.61 129.90 L837.67 129.40 L837.73 128.91 L837.79 128.42 L837.84 127.94 L837.90 127.47 L837.96 127.00 L838.00 126.71 L838.02 126.54 L838.08 126.08 L838.14 125.63 L838.20 125.18 L838.26 124.74 L838.31 124.31 L838.37 123.88 L838.43 123.46 L838.49 123.04 L838.55 122.63 L838.61 122.23 L838.67 121.83 L838.73 121.43 L838.79 121.05 L838.84 120.66 L838.90 120.29 L838.96 119.92 L839.02 119.55 L839.08 119.19 L839.14 118.83 L839.20 118.48 L839.26 118.14 L839.31 117.80 L839.37 117.46 L839.43 117.13 L839.49 116.81 L839.55 116.49 L839.61 116.18 L839.65 115.94 L839.67 115.87 L839.73 115.56 L839.78 115.26 L839.84 114.97 L839.90 114.68 L839.96 114.40 L840.02 114.12 L840.08 113.84 L840.14 113.57 L840.20 113.30 L840.25 113.04 L840.31 112.78 L840.37 112.53 L840.43 112.28 L840.49 112.04 L840.55 111.80 L840.61 111.56 L840.67 111.33 L840.72 111.10 L840.78 110.88 L840.84 110.66 L840.90 110.44 L840.96 110.23 L841.02 110.02 L841.08 109.81 L841.14 109.61 L841.19 109.42 L841.25 109.22 L841.30 109.06 L841.31 109.03 L841.37 108.85 L841.43 108.66 L841.49 108.48 L841.55 108.31 L841.61 108.13 L841.66 107.96 L841.72 107.80 L841.78 107.63 L841.84 107.47 L841.90 107.32 L841.96 107.16 L842.02 107.01 L842.08 106.86 L842.13 106.72 L842.19 106.57 L842.25 106.43 L842.31 106.30 L842.37 106.16 L842.43 106.03 L842.49 105.90 L842.55 105.77 L842.60 105.65 L842.66 105.53 L842.72 105.41 L842.78 105.29 L842.84 105.18 L842.90 105.06 L842.96 104.95 L843.02 104.85 L843.08 104.74 L843.13 104.64 L843.19 104.53 L843.25 104.44 L843.31 104.34 L843.37 104.24 L843.43 104.15 L843.49 104.06 L843.55 103.97 L843.60 103.88 L843.66 103.79 L843.72 103.71 L843.78 103.63 L843.84 103.55 L843.90 103.47 L843.96 103.39 L844.02 103.31 L844.07 103.24 L844.13 103.16 L844.19 103.09 L844.25 103.02 L844.31 102.96 L844.37 102.89 L844.43 102.82 L844.49 102.76 L844.54 102.70 L844.60 102.63 L844.61 102.63 L844.66 102.57 L844.72 102.52 L844.78 102.46 L844.84 102.40 L844.90 102.35 L844.96 102.29 L845.01 102.24 L845.07 102.19 L845.13 102.14 L845.19 102.09 L845.25 102.04 L845.31 101.99 L845.37 101.94 L845.43 101.90 L845.48 101.85 L845.54 101.81 L845.60 101.77 L845.66 101.73 L845.72 101.68 L845.78 101.64 L845.84 101.61 L845.90 101.57 L845.95 101.53 L846.01 101.49 L846.07 101.46 L846.13 101.42 L846.19 101.39 L846.25 101.35 L846.26 101.35 L846.31 101.32 L846.37 101.29 L846.42 101.26 L846.48 101.23 L846.54 101.20 L846.60 101.17 L846.66 101.14 L846.72 101.11 L846.78 101.08 L846.84 101.06 L846.89 101.03 L846.95 101.00 L847.01 100.98 L847.07 100.95 L847.13 100.93 L847.19 100.91 L847.25 100.88 L847.31 100.86 L847.37 100.84 L847.42 100.82 L847.48 100.80 L847.54 100.77 L847.60 100.75 L847.66 100.73 L847.72 100.72 L847.78 100.70 L847.84 100.68 L847.89 100.66 L847.92 100.65 L847.95 100.64 L848.01 100.62 L848.07 100.61 L848.13 100.59 L848.19 100.57 L848.25 100.56 L848.31 100.54 L848.36 100.53 L848.42 100.51 L848.48 100.50 L848.54 100.48 L848.60 100.47 L848.66 100.46 L848.72 100.44 L848.78 100.43 L848.83 100.42 L848.89 100.41 L848.95 100.39 L849.01 100.38 L849.07 100.37 L849.13 100.36 L849.19 100.35 L849.25 100.34 L849.30 100.33 L849.36 100.32 L849.42 100.31 L849.48 100.30 L849.54 100.29 L849.60 100.28 L849.66 100.27 L849.72 100.26 L849.77 100.25 L849.83 100.24 L849.89 100.23 L849.95 100.22 L850.01 100.22 L850.07 100.21 L850.13 100.20 L850.19 100.19 L850.24 100.19 L850.30 100.18 L850.36 100.17 L850.42 100.16 L850.48 100.16 L850.54 100.15 L850.60 100.14 L850.66 100.14 L850.71 100.13 L850.77 100.13 L850.83 100.12 L850.89 100.11 L850.95 100.11 L851.01 100.10 L851.07 100.10 L851.13 100.09 L851.18 100.09 L851.24 100.08 L851.36 100.07 L851.48 100.06 L851.60 100.05 L851.71 100.05 L851.83 100.04 L851.95 100.03 L852.07 100.02 L852.18 100.02 L852.30 100.01 L852.42 100.00 L852.54 100.00 L852.65 99.99 L852.77 99.98 L852.89 99.98 L853.01 99.97 L853.18 99.97 L853.36 99.96 L853.54 99.95 L853.71 99.95 L853.89 99.94 L854.06 99.94 L854.30 99.93 L854.53 99.92 L854.77 99.92 L855.06 99.91 L855.36 99.91 L855.71 99.90 L856.06 99.90 L856.47 99.89 L857.00 99.88 L857.65 99.88 L858.47 99.87 L859.65 99.87 L861.88 99.86 L882.62 99.86" fill="none" stroke="#ff0000" stroke-width="3.80" stroke-linejoin="round" stroke-linecap="butt" stroke-dasharray="15.2 5.325 2.6 5.325 2.6 5.325 2.6 5.325"/>
<path d="M882.62 99.86 L1101.59 99.86" fill="none" stroke="#ff0000" stroke-width="3.80" stroke-linejoin="round" stroke-linecap="butt" stroke-dasharray="15.2 5.325 2.6 5.325 2.6 5.325 2.6 5.325"/>
<text transform="translate(220.70 767.00) scale(1.0000 1.0000)" font-size="56.00" text-anchor="middle" font-family="Liberation Sans, sans-serif" fill="#000" >0.0</text>

<text transform="translate(397.00 767.00) scale(1.0000 1.0000)" font-size="56.00" text-anchor="middle" font-family="Liberation Sans, sans-serif" fill="#000" >0.2</text>

<text transform="translate(573.30 767.00) scale(1.0000 1.0000)" font-size="56.00" text-anchor="middle" font-family="Liberation Sans, sans-serif" fill="#000" >0.4</text>

<text transform="translate(749.60 767.00) scale(1.0000 1.0000)" font-size="56.00" text-anchor="middle" font-family="Liberation Sans, sans-serif" fill="#000" >0.6</text>

<text transform="translate(925.90 767.00) scale(1.0000 1.0000)" font-size="56.00" text-anchor="middle" font-family="Liberation Sans, sans-serif" fill="#000" >0.8</text>

<text transform="translate(1102.20 767.00) scale(1.0000 1.0000)" font-size="56.00" text-anchor="middle" font-family="Liberation Sans, sans-serif" fill="#000" >1.0</text>
<rect x="1066.24" y="761.22" width="10.97" height="6.98" fill="#fff"/><rect x="1082.46" y="761.22" width="10.68" height="6.98" fill="#fff"/>
<text transform="translate(188.09 698.00) scale(1.0000 1.0000)" font-size="56.00" text-anchor="end" font-family="Liberation Sans, sans-serif" fill="#000" >10</text>
<rect x="128.77" y="692.22" width="10.97" height="6.98" fill="#fff"/><rect x="144.98" y="692.22" width="10.68" height="6.98" fill="#fff"/>
<text transform="translate(188.09 672.70) scale(1.0000 1.0000)" font-size="34.72" text-anchor="start" font-family="Liberation Sans, sans-serif" fill="#000" >8</text>

<text transform="translate(188.09 607.97) scale(1.0000 1.0000)" font-size="56.00" text-anchor="end" font-family="Liberation Sans, sans-serif" fill="#000" >10</text>
<rect x="128.77" y="602.18" width="10.97" height="6.98" fill="#fff"/><rect x="144.98" y="602.18" width="10.68" height="6.98" fill="#fff"/>
<text transform="translate(188.09 582.67) scale(1.0000 1.0000)" font-size="34.72" text-anchor="start" font-family="Liberation Sans, sans-serif" fill="#000" >9</text>

<text transform="translate(168.78 499.43) scale(1.0000 1.0000)" font-size="56.00" text-anchor="end" font-family="Liberation Sans, sans-serif" fill="#000" >10</text>
<rect x="109.46" y="493.65" width="10.97" height="6.98" fill="#fff"/><rect x="125.67" y="493.65" width="10.68" height="6.98" fill="#fff"/>
<text transform="translate(168.78 474.13) scale(1.0000 1.0000)" font-size="34.72" text-anchor="start" font-family="Liberation Sans, sans-serif" fill="#000" >10</text>
<rect x="170.13" y="469.94" width="7.24" height="5.39" fill="#fff"/><rect x="180.73" y="469.94" width="7.11" height="5.39" fill="#fff"/>
<text transform="translate(168.78 390.90) scale(1.0000 1.0000)" font-size="56.00" text-anchor="end" font-family="Liberation Sans, sans-serif" fill="#000" >10</text>
<rect x="109.46" y="385.12" width="10.97" height="6.98" fill="#fff"/><rect x="125.67" y="385.12" width="10.68" height="6.98" fill="#fff"/>
<text transform="translate(168.78 365.60) scale(1.0000 1.0000)" font-size="34.72" text-anchor="start" font-family="Liberation Sans, sans-serif" fill="#000" >11</text>
<rect x="170.13" y="361.41" width="7.24" height="5.39" fill="#fff"/><rect x="180.73" y="361.41" width="7.11" height="5.39" fill="#fff"/><rect x="189.44" y="361.41" width="7.24" height="5.39" fill="#fff"/><rect x="200.04" y="361.41" width="7.11" height="5.39" fill="#fff"/>
<text transform="translate(168.78 282.37) scale(1.0000 1.0000)" font-size="56.00" text-anchor="end" font-family="Liberation Sans, sans-serif" fill="#000" >10</text>
<rect x="109.46" y="276.58" width="10.97" height="6.98" fill="#fff"/><rect x="125.67" y="276.58" width="10.68" height="6.98" fill="#fff"/>
<text transform="translate(168.78 257.07) scale(1.0000 1.0000)" font-size="34.72" text-anchor="start" font-family="Liberation Sans, sans-serif" fill="#000" >12</text>
<rect x="170.13" y="252.87" width="7.24" height="5.39" fill="#fff"/><rect x="180.73" y="252.87" width="7.11" height="5.39" fill="#fff"/>
<text transform="translate(168.78 173.83) scale(1.0000 1.0000)" font-size="56.00" text-anchor="end" font-family="Liberation Sans, sans-serif" fill="#000" >10</text>
<rect x="109.46" y="168.05" width="10.97" height="6.98" fill="#fff"/><rect x="125.67" y="168.05" width="10.68" height="6.98" fill="#fff"/>
<text transform="translate(168.78 148.53) scale(1.0000 1.0000)" font-size="34.72" text-anchor="start" font-family="Liberation Sans, sans-serif" fill="#000" >13</text>
<rect x="170.13" y="144.34" width="7.24" height="5.39" fill="#fff"/><rect x="180.73" y="144.34" width="7.11" height="5.39" fill="#fff"/>
<text transform="translate(168.78 78.90) scale(1.0000 1.0000)" font-size="56.00" text-anchor="end" font-family="Liberation Sans, sans-serif" fill="#000" >10</text>
<rect x="109.46" y="73.12" width="10.97" height="6.98" fill="#fff"/><rect x="125.67" y="73.12" width="10.68" height="6.98" fill="#fff"/>
<text transform="translate(168.78 53.60) scale(1.0000 1.0000)" font-size="34.72" text-anchor="start" font-family="Liberation Sans, sans-serif" fill="#000" >14</text>
<rect x="170.13" y="49.41" width="7.24" height="5.39" fill="#fff"/><rect x="180.73" y="49.41" width="7.11" height="5.39" fill="#fff"/>
<text transform="translate(624.90 825.80) scale(1.0000 0.9950)" font-size="55.90" text-anchor="start" font-family="Liberation Sans, sans-serif" fill="#000" >r</text>
<text transform="translate(643.52 825.80) scale(1.0000 0.9820)" font-size="55.90" text-anchor="start" font-family="Liberation Sans, sans-serif" fill="#000" >/</text>
<text transform="translate(659.05 825.80) scale(1.0000 1.0350)" font-size="55.90" text-anchor="start" font-family="Liberation Sans, sans-serif" fill="#000" >R</text>
<circle cx="708.5" cy="833.9" r="8.1" fill="none" stroke="#000" stroke-width="1.8"/>
<circle cx="708.5" cy="833.9" r="2.9" fill="#000"/>
<g transform="translate(64.0 686.4) rotate(-90)">
<text transform="translate(0.00 0.00) scale(1.0000 1.0500)" font-size="55.10" text-anchor="start" font-family="Liberation Sans, sans-serif" fill="#000" >T</text>
<text transform="translate(33.66 0.00) scale(1.0000 1.0000)" font-size="55.10" text-anchor="start" font-family="Liberation Sans, sans-serif" fill="#000" >hermal diffusivity (cm</text>
<text transform="translate(551.08 -23.70) scale(1.0000 1.0000)" font-size="25.10" text-anchor="start" font-family="Liberation Sans, sans-serif" fill="#000" >2</text>
<text transform="translate(565.04 0.00) scale(1.0000 1.0000)" font-size="55.10" text-anchor="start" font-family="Liberation Sans, sans-serif" fill="#000" >/s)</text>
</g>
<text transform="translate(257.76 311.08) scale(0.9820 1.0688)" font-size="33.33" text-anchor="start" font-family="Liberation Mono, monospace" fill="#000" stroke="#fff" stroke-width="0.66">THERM2</text>
<text transform="translate(344.86 418.13) scale(0.9820 1.0688)" font-size="33.33" text-anchor="start" font-family="Liberation Mono, monospace" fill="#000" stroke="#fff" stroke-width="0.66">THERM1</text>
<text transform="translate(425.06 529.13) scale(0.9820 1.0688)" font-size="33.33" text-anchor="start" font-family="Liberation Mono, monospace" fill="#000" stroke="#fff" stroke-width="0.66">REF</text>
<text transform="translate(537.66 562.33) scale(0.9820 1.0688)" font-size="33.33" text-anchor="start" font-family="Liberation Mono, monospace" fill="#000" stroke="#fff" stroke-width="0.66">TURB1</text>
<text transform="translate(671.16 597.13) scale(0.9820 1.0688)" font-size="33.33" text-anchor="start" font-family="Liberation Mono, monospace" fill="#000" stroke="#fff" stroke-width="0.66">TURB2</text>
</svg>
</body></html>
